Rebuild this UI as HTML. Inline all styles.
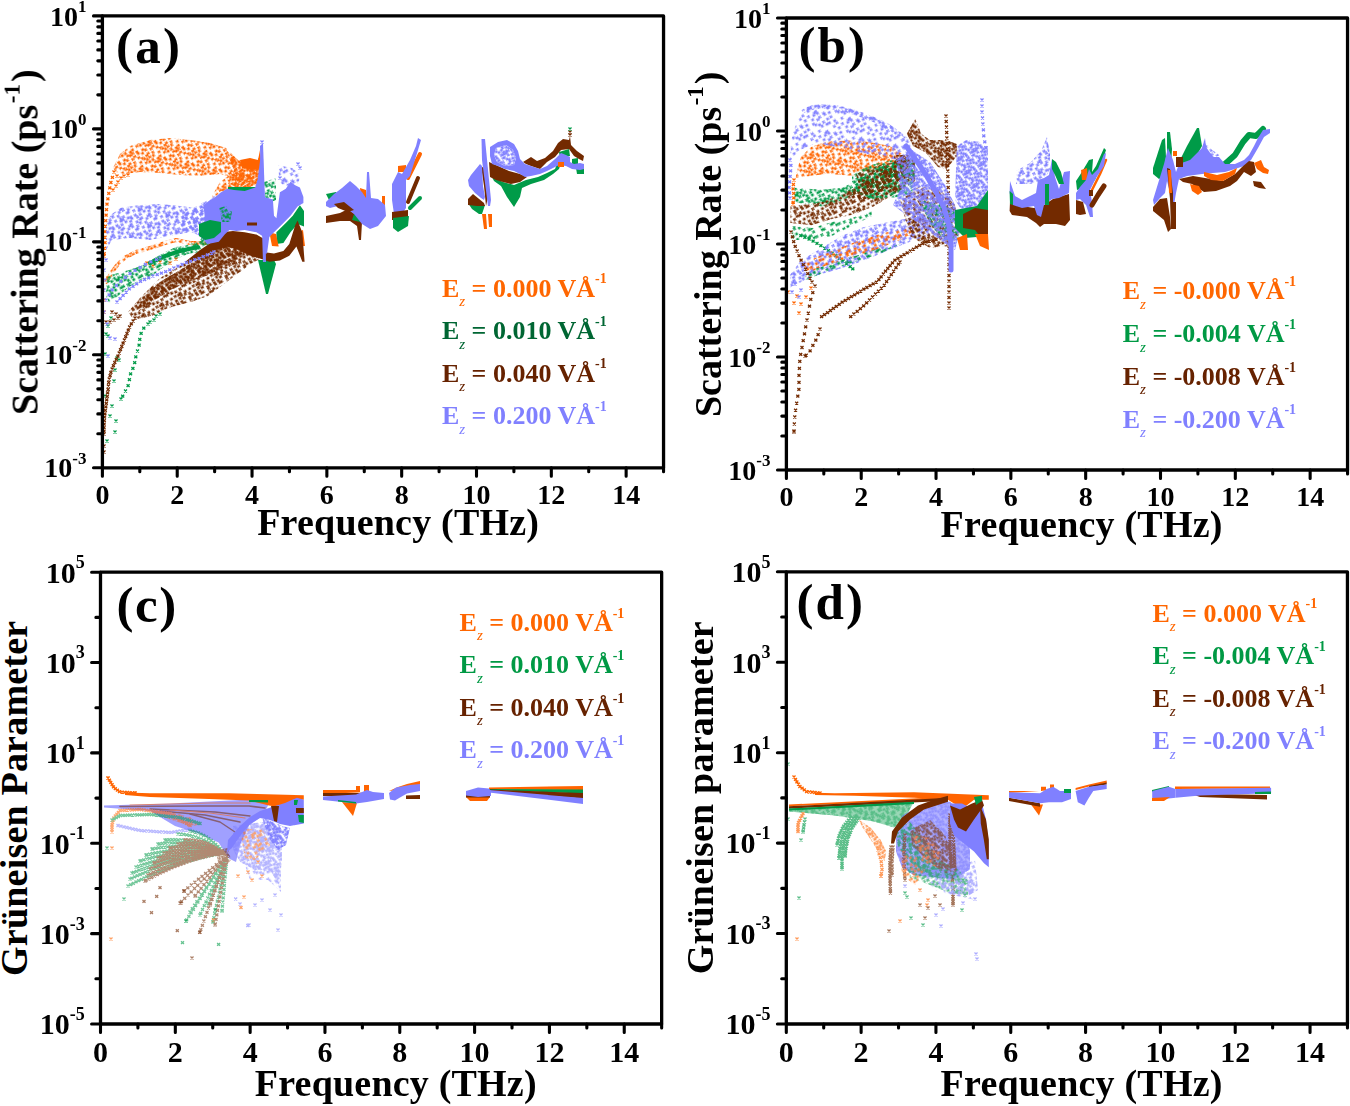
<!DOCTYPE html>
<html><head><meta charset="utf-8"><title>figure</title>
<style>html,body{margin:0;padding:0;background:#fff;overflow:hidden}svg{display:block;filter:blur(0.45px)}</style>
</head><body>
<svg width="1350" height="1106" viewBox="0 0 1350 1106" font-family="'Liberation Serif', serif" font-weight="bold">
<rect width="100%" height="100%" fill="#fff"/>
<defs>
<pattern id="pOs" width="26.00" height="23.00" patternUnits="userSpaceOnUse" patternTransform="rotate(-30)"><path d="M0.57 -0.18l2.6 2.4m0 -2.4l-2.6 2.4M0.57 22.82l2.6 2.4m0 -2.4l-2.6 2.4M26.57 -0.18l2.6 2.4m0 -2.4l-2.6 2.4M26.57 22.82l2.6 2.4m0 -2.4l-2.6 2.4M7.13 -0.47l2.6 2.4m0 -2.4l-2.6 2.4M7.13 22.53l2.6 2.4m0 -2.4l-2.6 2.4M11.85 0.61l2.6 2.4m0 -2.4l-2.6 2.4M11.85 23.61l2.6 2.4m0 -2.4l-2.6 2.4M15.06 1.13l2.6 2.4m0 -2.4l-2.6 2.4M20.18 0.86l2.6 2.4m0 -2.4l-2.6 2.4M-0.49 4.19l2.6 2.4m0 -2.4l-2.6 2.4M25.51 4.19l2.6 2.4m0 -2.4l-2.6 2.4M6.19 6.90l2.6 2.4m0 -2.4l-2.6 2.4M10.14 4.68l2.6 2.4m0 -2.4l-2.6 2.4M17.43 7.35l2.6 2.4m0 -2.4l-2.6 2.4M22.42 5.32l2.6 2.4m0 -2.4l-2.6 2.4M3.28 8.63l2.6 2.4m0 -2.4l-2.6 2.4M7.99 9.53l2.6 2.4m0 -2.4l-2.6 2.4M10.22 8.89l2.6 2.4m0 -2.4l-2.6 2.4M16.10 11.46l2.6 2.4m0 -2.4l-2.6 2.4M20.77 10.60l2.6 2.4m0 -2.4l-2.6 2.4M1.88 14.43l2.6 2.4m0 -2.4l-2.6 2.4M6.70 13.29l2.6 2.4m0 -2.4l-2.6 2.4M9.87 13.82l2.6 2.4m0 -2.4l-2.6 2.4M17.65 14.63l2.6 2.4m0 -2.4l-2.6 2.4M21.33 15.21l2.6 2.4m0 -2.4l-2.6 2.4M1.11 18.76l2.6 2.4m0 -2.4l-2.6 2.4M7.72 -2.77l2.6 2.4m0 -2.4l-2.6 2.4M7.72 20.23l2.6 2.4m0 -2.4l-2.6 2.4M10.64 19.77l2.6 2.4m0 -2.4l-2.6 2.4M17.00 -2.12l2.6 2.4m0 -2.4l-2.6 2.4M17.00 20.88l2.6 2.4m0 -2.4l-2.6 2.4M-2.95 18.72l2.6 2.4m0 -2.4l-2.6 2.4M23.05 18.72l2.6 2.4m0 -2.4l-2.6 2.4" stroke="#ff6400" stroke-width="1.15" fill="none"/></pattern>
<pattern id="pOm" width="21.00" height="19.00" patternUnits="userSpaceOnUse" patternTransform="rotate(-30)"><path d="M2.41 -0.46l2.6 2.4m0 -2.4l-2.6 2.4M2.41 18.54l2.6 2.4m0 -2.4l-2.6 2.4M4.72 1.48l2.6 2.4m0 -2.4l-2.6 2.4M8.03 0.67l2.6 2.4m0 -2.4l-2.6 2.4M8.03 19.67l2.6 2.4m0 -2.4l-2.6 2.4M11.85 1.21l2.6 2.4m0 -2.4l-2.6 2.4M-2.51 0.92l2.6 2.4m0 -2.4l-2.6 2.4M18.49 0.92l2.6 2.4m0 -2.4l-2.6 2.4M2.06 3.93l2.6 2.4m0 -2.4l-2.6 2.4M5.66 4.79l2.6 2.4m0 -2.4l-2.6 2.4M9.47 4.37l2.6 2.4m0 -2.4l-2.6 2.4M14.54 5.85l2.6 2.4m0 -2.4l-2.6 2.4M17.51 5.00l2.6 2.4m0 -2.4l-2.6 2.4M-0.68 8.91l2.6 2.4m0 -2.4l-2.6 2.4M20.32 8.91l2.6 2.4m0 -2.4l-2.6 2.4M5.49 9.80l2.6 2.4m0 -2.4l-2.6 2.4M10.28 7.65l2.6 2.4m0 -2.4l-2.6 2.4M13.02 8.81l2.6 2.4m0 -2.4l-2.6 2.4M16.00 8.18l2.6 2.4m0 -2.4l-2.6 2.4M-0.32 10.94l2.6 2.4m0 -2.4l-2.6 2.4M20.68 10.94l2.6 2.4m0 -2.4l-2.6 2.4M3.52 12.92l2.6 2.4m0 -2.4l-2.6 2.4M7.95 11.33l2.6 2.4m0 -2.4l-2.6 2.4M13.03 13.23l2.6 2.4m0 -2.4l-2.6 2.4M16.19 11.95l2.6 2.4m0 -2.4l-2.6 2.4M0.97 -1.93l2.6 2.4m0 -2.4l-2.6 2.4M0.97 17.07l2.6 2.4m0 -2.4l-2.6 2.4M6.07 -1.99l2.6 2.4m0 -2.4l-2.6 2.4M6.07 17.01l2.6 2.4m0 -2.4l-2.6 2.4M8.46 15.64l2.6 2.4m0 -2.4l-2.6 2.4M12.93 -1.93l2.6 2.4m0 -2.4l-2.6 2.4M12.93 17.07l2.6 2.4m0 -2.4l-2.6 2.4M-1.86 14.84l2.6 2.4m0 -2.4l-2.6 2.4M19.14 14.84l2.6 2.4m0 -2.4l-2.6 2.4" stroke="#ff6400" stroke-width="1.2" fill="none"/></pattern>
<pattern id="pOd" width="17.00" height="15.50" patternUnits="userSpaceOnUse" patternTransform="rotate(-30)"><path d="M-0.48 -0.31l2.6 2.4m0 -2.4l-2.6 2.4M-0.48 15.19l2.6 2.4m0 -2.4l-2.6 2.4M16.52 -0.31l2.6 2.4m0 -2.4l-2.6 2.4M16.52 15.19l2.6 2.4m0 -2.4l-2.6 2.4M3.07 0.31l2.6 2.4m0 -2.4l-2.6 2.4M3.07 15.81l2.6 2.4m0 -2.4l-2.6 2.4M7.44 -0.24l2.6 2.4m0 -2.4l-2.6 2.4M7.44 15.26l2.6 2.4m0 -2.4l-2.6 2.4M9.25 0.15l2.6 2.4m0 -2.4l-2.6 2.4M9.25 15.65l2.6 2.4m0 -2.4l-2.6 2.4M13.64 0.51l2.6 2.4m0 -2.4l-2.6 2.4M13.64 16.01l2.6 2.4m0 -2.4l-2.6 2.4M1.63 3.92l2.6 2.4m0 -2.4l-2.6 2.4M3.84 3.74l2.6 2.4m0 -2.4l-2.6 2.4M7.68 2.34l2.6 2.4m0 -2.4l-2.6 2.4M11.69 4.14l2.6 2.4m0 -2.4l-2.6 2.4M-1.98 4.19l2.6 2.4m0 -2.4l-2.6 2.4M15.02 4.19l2.6 2.4m0 -2.4l-2.6 2.4M0.11 6.30l2.6 2.4m0 -2.4l-2.6 2.4M17.11 6.30l2.6 2.4m0 -2.4l-2.6 2.4M2.72 6.88l2.6 2.4m0 -2.4l-2.6 2.4M6.01 5.48l2.6 2.4m0 -2.4l-2.6 2.4M9.81 5.71l2.6 2.4m0 -2.4l-2.6 2.4M13.56 5.44l2.6 2.4m0 -2.4l-2.6 2.4M-0.96 8.79l2.6 2.4m0 -2.4l-2.6 2.4M16.04 8.79l2.6 2.4m0 -2.4l-2.6 2.4M2.72 9.31l2.6 2.4m0 -2.4l-2.6 2.4M5.91 10.58l2.6 2.4m0 -2.4l-2.6 2.4M10.91 8.78l2.6 2.4m0 -2.4l-2.6 2.4M13.33 9.27l2.6 2.4m0 -2.4l-2.6 2.4M0.03 11.81l2.6 2.4m0 -2.4l-2.6 2.4M17.03 11.81l2.6 2.4m0 -2.4l-2.6 2.4M4.75 -1.53l2.6 2.4m0 -2.4l-2.6 2.4M4.75 13.97l2.6 2.4m0 -2.4l-2.6 2.4M7.11 -2.79l2.6 2.4m0 -2.4l-2.6 2.4M7.11 12.71l2.6 2.4m0 -2.4l-2.6 2.4M9.47 11.76l2.6 2.4m0 -2.4l-2.6 2.4M13.57 12.17l2.6 2.4m0 -2.4l-2.6 2.4" stroke="#ff6400" stroke-width="1.2" fill="none"/></pattern>
<pattern id="pOv" width="32.50" height="30.00" patternUnits="userSpaceOnUse" patternTransform="rotate(-30)"><path d="M3.66 0.17l2.6 2.4m0 -2.4l-2.6 2.4M3.66 30.17l2.6 2.4m0 -2.4l-2.6 2.4M5.97 3.96l2.6 2.4m0 -2.4l-2.6 2.4M15.10 0.10l2.6 2.4m0 -2.4l-2.6 2.4M15.10 30.10l2.6 2.4m0 -2.4l-2.6 2.4M21.67 -0.47l2.6 2.4m0 -2.4l-2.6 2.4M21.67 29.53l2.6 2.4m0 -2.4l-2.6 2.4M28.10 4.10l2.6 2.4m0 -2.4l-2.6 2.4M3.84 8.74l2.6 2.4m0 -2.4l-2.6 2.4M7.21 7.16l2.6 2.4m0 -2.4l-2.6 2.4M13.22 9.11l2.6 2.4m0 -2.4l-2.6 2.4M21.62 9.14l2.6 2.4m0 -2.4l-2.6 2.4M27.06 6.47l2.6 2.4m0 -2.4l-2.6 2.4M3.57 16.13l2.6 2.4m0 -2.4l-2.6 2.4M10.28 15.27l2.6 2.4m0 -2.4l-2.6 2.4M16.61 14.95l2.6 2.4m0 -2.4l-2.6 2.4M20.03 13.88l2.6 2.4m0 -2.4l-2.6 2.4M27.20 11.54l2.6 2.4m0 -2.4l-2.6 2.4M-0.50 18.74l2.6 2.4m0 -2.4l-2.6 2.4M32.00 18.74l2.6 2.4m0 -2.4l-2.6 2.4M7.20 20.72l2.6 2.4m0 -2.4l-2.6 2.4M17.32 19.55l2.6 2.4m0 -2.4l-2.6 2.4M23.72 22.14l2.6 2.4m0 -2.4l-2.6 2.4M-2.18 19.15l2.6 2.4m0 -2.4l-2.6 2.4M30.32 19.15l2.6 2.4m0 -2.4l-2.6 2.4M0.50 24.49l2.6 2.4m0 -2.4l-2.6 2.4M33.00 24.49l2.6 2.4m0 -2.4l-2.6 2.4M6.87 24.38l2.6 2.4m0 -2.4l-2.6 2.4M15.60 -2.28l2.6 2.4m0 -2.4l-2.6 2.4M15.60 27.72l2.6 2.4m0 -2.4l-2.6 2.4M23.22 25.70l2.6 2.4m0 -2.4l-2.6 2.4M28.75 -2.76l2.6 2.4m0 -2.4l-2.6 2.4M28.75 27.24l2.6 2.4m0 -2.4l-2.6 2.4" stroke="#ff6400" stroke-width="1.15" fill="none"/></pattern>
<path id="xO" d="M-1.5 -1.4L1.5 1.4M1.5 -1.4L-1.5 1.4" stroke="#ff6400" stroke-width="1.3" fill="none"/>
<pattern id="pGs" width="26.00" height="23.00" patternUnits="userSpaceOnUse" patternTransform="rotate(-30)"><path d="M-0.43 1.69l2.6 2.4m0 -2.4l-2.6 2.4M25.57 1.69l2.6 2.4m0 -2.4l-2.6 2.4M8.20 2.14l2.6 2.4m0 -2.4l-2.6 2.4M12.74 1.02l2.6 2.4m0 -2.4l-2.6 2.4M15.56 2.16l2.6 2.4m0 -2.4l-2.6 2.4M21.40 2.21l2.6 2.4m0 -2.4l-2.6 2.4M3.26 5.32l2.6 2.4m0 -2.4l-2.6 2.4M6.09 7.34l2.6 2.4m0 -2.4l-2.6 2.4M12.64 4.49l2.6 2.4m0 -2.4l-2.6 2.4M15.35 4.42l2.6 2.4m0 -2.4l-2.6 2.4M-2.22 6.83l2.6 2.4m0 -2.4l-2.6 2.4M23.78 6.83l2.6 2.4m0 -2.4l-2.6 2.4M-0.17 11.50l2.6 2.4m0 -2.4l-2.6 2.4M25.83 11.50l2.6 2.4m0 -2.4l-2.6 2.4M8.50 10.88l2.6 2.4m0 -2.4l-2.6 2.4M11.08 10.48l2.6 2.4m0 -2.4l-2.6 2.4M15.36 8.51l2.6 2.4m0 -2.4l-2.6 2.4M-1.94 10.85l2.6 2.4m0 -2.4l-2.6 2.4M24.06 10.85l2.6 2.4m0 -2.4l-2.6 2.4M1.41 16.50l2.6 2.4m0 -2.4l-2.6 2.4M6.22 16.27l2.6 2.4m0 -2.4l-2.6 2.4M13.06 13.84l2.6 2.4m0 -2.4l-2.6 2.4M15.87 14.14l2.6 2.4m0 -2.4l-2.6 2.4M21.02 15.22l2.6 2.4m0 -2.4l-2.6 2.4M0.30 19.20l2.6 2.4m0 -2.4l-2.6 2.4M26.30 19.20l2.6 2.4m0 -2.4l-2.6 2.4M4.97 -1.99l2.6 2.4m0 -2.4l-2.6 2.4M4.97 21.01l2.6 2.4m0 -2.4l-2.6 2.4M11.09 19.35l2.6 2.4m0 -2.4l-2.6 2.4M17.25 -2.01l2.6 2.4m0 -2.4l-2.6 2.4M17.25 20.99l2.6 2.4m0 -2.4l-2.6 2.4M21.77 -1.96l2.6 2.4m0 -2.4l-2.6 2.4M21.77 21.04l2.6 2.4m0 -2.4l-2.6 2.4" stroke="#009b48" stroke-width="1.15" fill="none"/></pattern>
<pattern id="pGm" width="21.00" height="19.00" patternUnits="userSpaceOnUse" patternTransform="rotate(-30)"><path d="M0.81 0.80l2.6 2.4m0 -2.4l-2.6 2.4M0.81 19.80l2.6 2.4m0 -2.4l-2.6 2.4M5.08 -0.76l2.6 2.4m0 -2.4l-2.6 2.4M5.08 18.24l2.6 2.4m0 -2.4l-2.6 2.4M9.00 -0.26l2.6 2.4m0 -2.4l-2.6 2.4M9.00 18.74l2.6 2.4m0 -2.4l-2.6 2.4M11.73 1.61l2.6 2.4m0 -2.4l-2.6 2.4M16.50 0.62l2.6 2.4m0 -2.4l-2.6 2.4M16.50 19.62l2.6 2.4m0 -2.4l-2.6 2.4M1.56 4.67l2.6 2.4m0 -2.4l-2.6 2.4M4.42 4.56l2.6 2.4m0 -2.4l-2.6 2.4M9.39 5.36l2.6 2.4m0 -2.4l-2.6 2.4M12.08 4.68l2.6 2.4m0 -2.4l-2.6 2.4M16.75 3.82l2.6 2.4m0 -2.4l-2.6 2.4M1.71 8.32l2.6 2.4m0 -2.4l-2.6 2.4M5.21 9.09l2.6 2.4m0 -2.4l-2.6 2.4M10.59 8.13l2.6 2.4m0 -2.4l-2.6 2.4M13.78 8.32l2.6 2.4m0 -2.4l-2.6 2.4M17.64 8.89l2.6 2.4m0 -2.4l-2.6 2.4M0.64 12.20l2.6 2.4m0 -2.4l-2.6 2.4M21.64 12.20l2.6 2.4m0 -2.4l-2.6 2.4M4.93 13.44l2.6 2.4m0 -2.4l-2.6 2.4M9.87 13.24l2.6 2.4m0 -2.4l-2.6 2.4M14.89 11.37l2.6 2.4m0 -2.4l-2.6 2.4M-3.20 13.45l2.6 2.4m0 -2.4l-2.6 2.4M17.80 13.45l2.6 2.4m0 -2.4l-2.6 2.4M1.94 14.80l2.6 2.4m0 -2.4l-2.6 2.4M3.73 15.72l2.6 2.4m0 -2.4l-2.6 2.4M7.76 15.11l2.6 2.4m0 -2.4l-2.6 2.4M11.97 -2.58l2.6 2.4m0 -2.4l-2.6 2.4M11.97 16.42l2.6 2.4m0 -2.4l-2.6 2.4M-2.45 -1.89l2.6 2.4m0 -2.4l-2.6 2.4M-2.45 17.11l2.6 2.4m0 -2.4l-2.6 2.4M18.55 -1.89l2.6 2.4m0 -2.4l-2.6 2.4M18.55 17.11l2.6 2.4m0 -2.4l-2.6 2.4" stroke="#009b48" stroke-width="1.2" fill="none"/></pattern>
<pattern id="pGd" width="17.00" height="15.50" patternUnits="userSpaceOnUse" patternTransform="rotate(-30)"><path d="M-0.54 0.89l2.6 2.4m0 -2.4l-2.6 2.4M16.46 0.89l2.6 2.4m0 -2.4l-2.6 2.4M4.24 -0.54l2.6 2.4m0 -2.4l-2.6 2.4M4.24 14.96l2.6 2.4m0 -2.4l-2.6 2.4M8.24 1.51l2.6 2.4m0 -2.4l-2.6 2.4M9.84 1.47l2.6 2.4m0 -2.4l-2.6 2.4M-3.28 0.32l2.6 2.4m0 -2.4l-2.6 2.4M-3.28 15.82l2.6 2.4m0 -2.4l-2.6 2.4M13.72 0.32l2.6 2.4m0 -2.4l-2.6 2.4M13.72 15.82l2.6 2.4m0 -2.4l-2.6 2.4M1.73 4.27l2.6 2.4m0 -2.4l-2.6 2.4M2.88 3.28l2.6 2.4m0 -2.4l-2.6 2.4M7.24 3.05l2.6 2.4m0 -2.4l-2.6 2.4M9.77 3.00l2.6 2.4m0 -2.4l-2.6 2.4M-2.40 2.26l2.6 2.4m0 -2.4l-2.6 2.4M14.60 2.26l2.6 2.4m0 -2.4l-2.6 2.4M0.55 6.40l2.6 2.4m0 -2.4l-2.6 2.4M17.55 6.40l2.6 2.4m0 -2.4l-2.6 2.4M2.49 6.13l2.6 2.4m0 -2.4l-2.6 2.4M7.54 6.58l2.6 2.4m0 -2.4l-2.6 2.4M9.41 7.75l2.6 2.4m0 -2.4l-2.6 2.4M-2.22 7.72l2.6 2.4m0 -2.4l-2.6 2.4M14.78 7.72l2.6 2.4m0 -2.4l-2.6 2.4M-0.67 9.07l2.6 2.4m0 -2.4l-2.6 2.4M16.33 9.07l2.6 2.4m0 -2.4l-2.6 2.4M2.55 10.34l2.6 2.4m0 -2.4l-2.6 2.4M6.58 8.73l2.6 2.4m0 -2.4l-2.6 2.4M10.39 10.67l2.6 2.4m0 -2.4l-2.6 2.4M-2.13 9.05l2.6 2.4m0 -2.4l-2.6 2.4M14.87 9.05l2.6 2.4m0 -2.4l-2.6 2.4M-0.55 -1.71l2.6 2.4m0 -2.4l-2.6 2.4M-0.55 13.79l2.6 2.4m0 -2.4l-2.6 2.4M16.45 -1.71l2.6 2.4m0 -2.4l-2.6 2.4M16.45 13.79l2.6 2.4m0 -2.4l-2.6 2.4M3.99 -2.25l2.6 2.4m0 -2.4l-2.6 2.4M3.99 13.25l2.6 2.4m0 -2.4l-2.6 2.4M6.08 11.65l2.6 2.4m0 -2.4l-2.6 2.4M11.11 -2.94l2.6 2.4m0 -2.4l-2.6 2.4M11.11 12.56l2.6 2.4m0 -2.4l-2.6 2.4M12.84 -1.66l2.6 2.4m0 -2.4l-2.6 2.4M12.84 13.84l2.6 2.4m0 -2.4l-2.6 2.4" stroke="#009b48" stroke-width="1.2" fill="none"/></pattern>
<pattern id="pGv" width="32.50" height="30.00" patternUnits="userSpaceOnUse" patternTransform="rotate(-30)"><path d="M2.65 3.25l2.6 2.4m0 -2.4l-2.6 2.4M6.29 3.51l2.6 2.4m0 -2.4l-2.6 2.4M12.70 3.54l2.6 2.4m0 -2.4l-2.6 2.4M21.21 1.03l2.6 2.4m0 -2.4l-2.6 2.4M28.23 3.85l2.6 2.4m0 -2.4l-2.6 2.4M0.74 6.02l2.6 2.4m0 -2.4l-2.6 2.4M8.59 6.54l2.6 2.4m0 -2.4l-2.6 2.4M12.92 6.17l2.6 2.4m0 -2.4l-2.6 2.4M19.11 6.37l2.6 2.4m0 -2.4l-2.6 2.4M26.97 6.86l2.6 2.4m0 -2.4l-2.6 2.4M3.30 12.79l2.6 2.4m0 -2.4l-2.6 2.4M8.45 12.25l2.6 2.4m0 -2.4l-2.6 2.4M14.15 11.49l2.6 2.4m0 -2.4l-2.6 2.4M20.15 11.47l2.6 2.4m0 -2.4l-2.6 2.4M29.16 14.05l2.6 2.4m0 -2.4l-2.6 2.4M0.34 19.68l2.6 2.4m0 -2.4l-2.6 2.4M32.84 19.68l2.6 2.4m0 -2.4l-2.6 2.4M10.71 17.91l2.6 2.4m0 -2.4l-2.6 2.4M16.61 19.47l2.6 2.4m0 -2.4l-2.6 2.4M21.42 21.41l2.6 2.4m0 -2.4l-2.6 2.4M27.39 19.83l2.6 2.4m0 -2.4l-2.6 2.4M2.93 -1.88l2.6 2.4m0 -2.4l-2.6 2.4M2.93 28.12l2.6 2.4m0 -2.4l-2.6 2.4M7.63 -2.61l2.6 2.4m0 -2.4l-2.6 2.4M7.63 27.39l2.6 2.4m0 -2.4l-2.6 2.4M16.02 26.45l2.6 2.4m0 -2.4l-2.6 2.4M20.95 25.07l2.6 2.4m0 -2.4l-2.6 2.4M25.63 24.02l2.6 2.4m0 -2.4l-2.6 2.4" stroke="#009b48" stroke-width="1.15" fill="none"/></pattern>
<path id="xG" d="M-1.5 -1.4L1.5 1.4M1.5 -1.4L-1.5 1.4" stroke="#009b48" stroke-width="1.3" fill="none"/>
<pattern id="pBs" width="26.00" height="23.00" patternUnits="userSpaceOnUse" patternTransform="rotate(-30)"><path d="M-0.49 1.99l2.6 2.4m0 -2.4l-2.6 2.4M25.51 1.99l2.6 2.4m0 -2.4l-2.6 2.4M5.48 -0.14l2.6 2.4m0 -2.4l-2.6 2.4M5.48 22.86l2.6 2.4m0 -2.4l-2.6 2.4M9.97 2.36l2.6 2.4m0 -2.4l-2.6 2.4M18.44 1.73l2.6 2.4m0 -2.4l-2.6 2.4M21.19 0.15l2.6 2.4m0 -2.4l-2.6 2.4M21.19 23.15l2.6 2.4m0 -2.4l-2.6 2.4M0.44 5.55l2.6 2.4m0 -2.4l-2.6 2.4M26.44 5.55l2.6 2.4m0 -2.4l-2.6 2.4M5.08 5.50l2.6 2.4m0 -2.4l-2.6 2.4M10.72 7.40l2.6 2.4m0 -2.4l-2.6 2.4M18.87 5.87l2.6 2.4m0 -2.4l-2.6 2.4M21.04 7.41l2.6 2.4m0 -2.4l-2.6 2.4M0.51 9.77l2.6 2.4m0 -2.4l-2.6 2.4M26.51 9.77l2.6 2.4m0 -2.4l-2.6 2.4M4.42 9.86l2.6 2.4m0 -2.4l-2.6 2.4M11.59 10.31l2.6 2.4m0 -2.4l-2.6 2.4M15.66 10.32l2.6 2.4m0 -2.4l-2.6 2.4M20.04 9.43l2.6 2.4m0 -2.4l-2.6 2.4M-0.41 14.53l2.6 2.4m0 -2.4l-2.6 2.4M25.59 14.53l2.6 2.4m0 -2.4l-2.6 2.4M4.59 13.14l2.6 2.4m0 -2.4l-2.6 2.4M10.89 13.92l2.6 2.4m0 -2.4l-2.6 2.4M17.26 15.01l2.6 2.4m0 -2.4l-2.6 2.4M-2.86 15.48l2.6 2.4m0 -2.4l-2.6 2.4M23.14 15.48l2.6 2.4m0 -2.4l-2.6 2.4M2.20 -2.10l2.6 2.4m0 -2.4l-2.6 2.4M2.20 20.90l2.6 2.4m0 -2.4l-2.6 2.4M6.04 18.86l2.6 2.4m0 -2.4l-2.6 2.4M13.72 18.21l2.6 2.4m0 -2.4l-2.6 2.4M17.83 -2.97l2.6 2.4m0 -2.4l-2.6 2.4M17.83 20.03l2.6 2.4m0 -2.4l-2.6 2.4M20.20 -2.27l2.6 2.4m0 -2.4l-2.6 2.4M20.20 20.73l2.6 2.4m0 -2.4l-2.6 2.4" stroke="#732a00" stroke-width="1.15" fill="none"/></pattern>
<pattern id="pBm" width="21.00" height="19.00" patternUnits="userSpaceOnUse" patternTransform="rotate(-30)"><path d="M2.12 1.09l2.6 2.4m0 -2.4l-2.6 2.4M5.79 1.65l2.6 2.4m0 -2.4l-2.6 2.4M7.99 0.77l2.6 2.4m0 -2.4l-2.6 2.4M7.99 19.77l2.6 2.4m0 -2.4l-2.6 2.4M13.41 1.72l2.6 2.4m0 -2.4l-2.6 2.4M-2.38 1.69l2.6 2.4m0 -2.4l-2.6 2.4M18.62 1.69l2.6 2.4m0 -2.4l-2.6 2.4M1.08 5.69l2.6 2.4m0 -2.4l-2.6 2.4M5.61 5.09l2.6 2.4m0 -2.4l-2.6 2.4M8.29 3.07l2.6 2.4m0 -2.4l-2.6 2.4M12.17 4.08l2.6 2.4m0 -2.4l-2.6 2.4M16.27 5.52l2.6 2.4m0 -2.4l-2.6 2.4M1.00 8.69l2.6 2.4m0 -2.4l-2.6 2.4M5.42 8.85l2.6 2.4m0 -2.4l-2.6 2.4M9.16 6.79l2.6 2.4m0 -2.4l-2.6 2.4M14.40 9.05l2.6 2.4m0 -2.4l-2.6 2.4M17.61 8.41l2.6 2.4m0 -2.4l-2.6 2.4M1.34 10.78l2.6 2.4m0 -2.4l-2.6 2.4M5.80 11.35l2.6 2.4m0 -2.4l-2.6 2.4M7.77 11.39l2.6 2.4m0 -2.4l-2.6 2.4M14.17 11.20l2.6 2.4m0 -2.4l-2.6 2.4M-2.59 13.55l2.6 2.4m0 -2.4l-2.6 2.4M18.41 13.55l2.6 2.4m0 -2.4l-2.6 2.4M0.78 15.54l2.6 2.4m0 -2.4l-2.6 2.4M4.93 -2.54l2.6 2.4m0 -2.4l-2.6 2.4M4.93 16.46l2.6 2.4m0 -2.4l-2.6 2.4M10.10 -2.74l2.6 2.4m0 -2.4l-2.6 2.4M10.10 16.26l2.6 2.4m0 -2.4l-2.6 2.4M13.88 14.62l2.6 2.4m0 -2.4l-2.6 2.4M16.42 15.15l2.6 2.4m0 -2.4l-2.6 2.4" stroke="#732a00" stroke-width="1.2" fill="none"/></pattern>
<pattern id="pBd" width="17.00" height="15.50" patternUnits="userSpaceOnUse" patternTransform="rotate(-30)"><path d="M1.06 -0.14l2.6 2.4m0 -2.4l-2.6 2.4M1.06 15.36l2.6 2.4m0 -2.4l-2.6 2.4M3.98 -0.86l2.6 2.4m0 -2.4l-2.6 2.4M3.98 14.64l2.6 2.4m0 -2.4l-2.6 2.4M6.00 -0.22l2.6 2.4m0 -2.4l-2.6 2.4M6.00 15.28l2.6 2.4m0 -2.4l-2.6 2.4M11.07 0.83l2.6 2.4m0 -2.4l-2.6 2.4M-2.52 -0.17l2.6 2.4m0 -2.4l-2.6 2.4M-2.52 15.33l2.6 2.4m0 -2.4l-2.6 2.4M14.48 -0.17l2.6 2.4m0 -2.4l-2.6 2.4M14.48 15.33l2.6 2.4m0 -2.4l-2.6 2.4M0.44 3.36l2.6 2.4m0 -2.4l-2.6 2.4M17.44 3.36l2.6 2.4m0 -2.4l-2.6 2.4M3.71 2.50l2.6 2.4m0 -2.4l-2.6 2.4M8.27 2.70l2.6 2.4m0 -2.4l-2.6 2.4M11.90 4.53l2.6 2.4m0 -2.4l-2.6 2.4M12.69 3.35l2.6 2.4m0 -2.4l-2.6 2.4M1.27 7.71l2.6 2.4m0 -2.4l-2.6 2.4M3.66 5.98l2.6 2.4m0 -2.4l-2.6 2.4M6.41 7.66l2.6 2.4m0 -2.4l-2.6 2.4M9.81 6.75l2.6 2.4m0 -2.4l-2.6 2.4M13.03 6.61l2.6 2.4m0 -2.4l-2.6 2.4M1.63 8.74l2.6 2.4m0 -2.4l-2.6 2.4M4.67 9.67l2.6 2.4m0 -2.4l-2.6 2.4M8.25 10.15l2.6 2.4m0 -2.4l-2.6 2.4M9.87 10.64l2.6 2.4m0 -2.4l-2.6 2.4M-3.04 8.47l2.6 2.4m0 -2.4l-2.6 2.4M13.96 8.47l2.6 2.4m0 -2.4l-2.6 2.4M-0.95 -2.77l2.6 2.4m0 -2.4l-2.6 2.4M-0.95 12.73l2.6 2.4m0 -2.4l-2.6 2.4M16.05 -2.77l2.6 2.4m0 -2.4l-2.6 2.4M16.05 12.73l2.6 2.4m0 -2.4l-2.6 2.4M3.67 12.26l2.6 2.4m0 -2.4l-2.6 2.4M6.22 -3.14l2.6 2.4m0 -2.4l-2.6 2.4M6.22 12.36l2.6 2.4m0 -2.4l-2.6 2.4M10.10 -1.91l2.6 2.4m0 -2.4l-2.6 2.4M10.10 13.59l2.6 2.4m0 -2.4l-2.6 2.4M12.64 -2.13l2.6 2.4m0 -2.4l-2.6 2.4M12.64 13.37l2.6 2.4m0 -2.4l-2.6 2.4" stroke="#732a00" stroke-width="1.2" fill="none"/></pattern>
<pattern id="pBv" width="32.50" height="30.00" patternUnits="userSpaceOnUse" patternTransform="rotate(-30)"><path d="M3.71 -0.02l2.6 2.4m0 -2.4l-2.6 2.4M3.71 29.98l2.6 2.4m0 -2.4l-2.6 2.4M10.67 2.82l2.6 2.4m0 -2.4l-2.6 2.4M17.04 0.79l2.6 2.4m0 -2.4l-2.6 2.4M17.04 30.79l2.6 2.4m0 -2.4l-2.6 2.4M20.79 1.29l2.6 2.4m0 -2.4l-2.6 2.4M-1.96 2.23l2.6 2.4m0 -2.4l-2.6 2.4M30.54 2.23l2.6 2.4m0 -2.4l-2.6 2.4M1.23 7.45l2.6 2.4m0 -2.4l-2.6 2.4M7.28 5.63l2.6 2.4m0 -2.4l-2.6 2.4M12.88 9.41l2.6 2.4m0 -2.4l-2.6 2.4M20.34 9.89l2.6 2.4m0 -2.4l-2.6 2.4M26.65 6.68l2.6 2.4m0 -2.4l-2.6 2.4M2.01 12.31l2.6 2.4m0 -2.4l-2.6 2.4M7.79 15.99l2.6 2.4m0 -2.4l-2.6 2.4M16.95 15.30l2.6 2.4m0 -2.4l-2.6 2.4M22.13 15.78l2.6 2.4m0 -2.4l-2.6 2.4M-2.26 14.04l2.6 2.4m0 -2.4l-2.6 2.4M30.24 14.04l2.6 2.4m0 -2.4l-2.6 2.4M3.09 17.64l2.6 2.4m0 -2.4l-2.6 2.4M9.66 19.56l2.6 2.4m0 -2.4l-2.6 2.4M16.26 20.49l2.6 2.4m0 -2.4l-2.6 2.4M20.34 17.64l2.6 2.4m0 -2.4l-2.6 2.4M-2.33 18.01l2.6 2.4m0 -2.4l-2.6 2.4M30.17 18.01l2.6 2.4m0 -2.4l-2.6 2.4M1.81 25.05l2.6 2.4m0 -2.4l-2.6 2.4M7.40 -3.05l2.6 2.4m0 -2.4l-2.6 2.4M7.40 26.95l2.6 2.4m0 -2.4l-2.6 2.4M17.43 24.65l2.6 2.4m0 -2.4l-2.6 2.4M22.26 24.84l2.6 2.4m0 -2.4l-2.6 2.4M28.25 25.29l2.6 2.4m0 -2.4l-2.6 2.4" stroke="#732a00" stroke-width="1.15" fill="none"/></pattern>
<path id="xB" d="M-1.5 -1.4L1.5 1.4M1.5 -1.4L-1.5 1.4" stroke="#732a00" stroke-width="1.3" fill="none"/>
<pattern id="pLs" width="26.00" height="23.00" patternUnits="userSpaceOnUse" patternTransform="rotate(-30)"><path d="M-0.08 -0.15l2.6 2.4m0 -2.4l-2.6 2.4M-0.08 22.85l2.6 2.4m0 -2.4l-2.6 2.4M25.92 -0.15l2.6 2.4m0 -2.4l-2.6 2.4M25.92 22.85l2.6 2.4m0 -2.4l-2.6 2.4M5.28 2.59l2.6 2.4m0 -2.4l-2.6 2.4M11.69 0.07l2.6 2.4m0 -2.4l-2.6 2.4M11.69 23.07l2.6 2.4m0 -2.4l-2.6 2.4M18.59 2.93l2.6 2.4m0 -2.4l-2.6 2.4M21.89 -0.23l2.6 2.4m0 -2.4l-2.6 2.4M21.89 22.77l2.6 2.4m0 -2.4l-2.6 2.4M0.02 4.19l2.6 2.4m0 -2.4l-2.6 2.4M26.02 4.19l2.6 2.4m0 -2.4l-2.6 2.4M5.84 4.20l2.6 2.4m0 -2.4l-2.6 2.4M10.61 4.81l2.6 2.4m0 -2.4l-2.6 2.4M17.19 7.13l2.6 2.4m0 -2.4l-2.6 2.4M-2.86 5.38l2.6 2.4m0 -2.4l-2.6 2.4M23.14 5.38l2.6 2.4m0 -2.4l-2.6 2.4M0.94 10.39l2.6 2.4m0 -2.4l-2.6 2.4M5.99 9.70l2.6 2.4m0 -2.4l-2.6 2.4M9.88 9.48l2.6 2.4m0 -2.4l-2.6 2.4M18.85 8.92l2.6 2.4m0 -2.4l-2.6 2.4M22.11 10.78l2.6 2.4m0 -2.4l-2.6 2.4M2.81 13.85l2.6 2.4m0 -2.4l-2.6 2.4M5.55 13.97l2.6 2.4m0 -2.4l-2.6 2.4M11.28 14.70l2.6 2.4m0 -2.4l-2.6 2.4M18.79 16.18l2.6 2.4m0 -2.4l-2.6 2.4M-2.35 13.14l2.6 2.4m0 -2.4l-2.6 2.4M23.65 13.14l2.6 2.4m0 -2.4l-2.6 2.4M-0.65 -2.73l2.6 2.4m0 -2.4l-2.6 2.4M-0.65 20.27l2.6 2.4m0 -2.4l-2.6 2.4M25.35 -2.73l2.6 2.4m0 -2.4l-2.6 2.4M25.35 20.27l2.6 2.4m0 -2.4l-2.6 2.4M8.15 19.40l2.6 2.4m0 -2.4l-2.6 2.4M12.06 17.66l2.6 2.4m0 -2.4l-2.6 2.4M16.45 -1.93l2.6 2.4m0 -2.4l-2.6 2.4M16.45 21.07l2.6 2.4m0 -2.4l-2.6 2.4M-2.55 -2.19l2.6 2.4m0 -2.4l-2.6 2.4M-2.55 20.81l2.6 2.4m0 -2.4l-2.6 2.4M23.45 -2.19l2.6 2.4m0 -2.4l-2.6 2.4M23.45 20.81l2.6 2.4m0 -2.4l-2.6 2.4" stroke="#8080ff" stroke-width="1.15" fill="none"/></pattern>
<pattern id="pLm" width="21.00" height="19.00" patternUnits="userSpaceOnUse" patternTransform="rotate(-30)"><path d="M2.39 -0.06l2.6 2.4m0 -2.4l-2.6 2.4M2.39 18.94l2.6 2.4m0 -2.4l-2.6 2.4M3.69 -0.35l2.6 2.4m0 -2.4l-2.6 2.4M3.69 18.65l2.6 2.4m0 -2.4l-2.6 2.4M9.28 1.25l2.6 2.4m0 -2.4l-2.6 2.4M14.88 1.37l2.6 2.4m0 -2.4l-2.6 2.4M-2.90 1.50l2.6 2.4m0 -2.4l-2.6 2.4M18.10 1.50l2.6 2.4m0 -2.4l-2.6 2.4M0.66 4.66l2.6 2.4m0 -2.4l-2.6 2.4M21.66 4.66l2.6 2.4m0 -2.4l-2.6 2.4M3.45 5.36l2.6 2.4m0 -2.4l-2.6 2.4M8.30 5.78l2.6 2.4m0 -2.4l-2.6 2.4M13.89 3.90l2.6 2.4m0 -2.4l-2.6 2.4M16.35 3.75l2.6 2.4m0 -2.4l-2.6 2.4M1.26 8.90l2.6 2.4m0 -2.4l-2.6 2.4M3.70 6.99l2.6 2.4m0 -2.4l-2.6 2.4M9.28 8.55l2.6 2.4m0 -2.4l-2.6 2.4M13.02 7.46l2.6 2.4m0 -2.4l-2.6 2.4M-3.06 6.81l2.6 2.4m0 -2.4l-2.6 2.4M17.94 6.81l2.6 2.4m0 -2.4l-2.6 2.4M0.13 11.98l2.6 2.4m0 -2.4l-2.6 2.4M21.13 11.98l2.6 2.4m0 -2.4l-2.6 2.4M6.54 12.54l2.6 2.4m0 -2.4l-2.6 2.4M10.49 12.02l2.6 2.4m0 -2.4l-2.6 2.4M12.51 11.33l2.6 2.4m0 -2.4l-2.6 2.4M-1.85 12.72l2.6 2.4m0 -2.4l-2.6 2.4M19.15 12.72l2.6 2.4m0 -2.4l-2.6 2.4M0.15 14.45l2.6 2.4m0 -2.4l-2.6 2.4M21.15 14.45l2.6 2.4m0 -2.4l-2.6 2.4M4.99 -2.57l2.6 2.4m0 -2.4l-2.6 2.4M4.99 16.43l2.6 2.4m0 -2.4l-2.6 2.4M8.93 15.16l2.6 2.4m0 -2.4l-2.6 2.4M13.96 -1.81l2.6 2.4m0 -2.4l-2.6 2.4M13.96 17.19l2.6 2.4m0 -2.4l-2.6 2.4M16.68 14.48l2.6 2.4m0 -2.4l-2.6 2.4" stroke="#8080ff" stroke-width="1.2" fill="none"/></pattern>
<pattern id="pLd" width="17.00" height="15.50" patternUnits="userSpaceOnUse" patternTransform="rotate(-30)"><path d="M-0.04 0.15l2.6 2.4m0 -2.4l-2.6 2.4M-0.04 15.65l2.6 2.4m0 -2.4l-2.6 2.4M16.96 0.15l2.6 2.4m0 -2.4l-2.6 2.4M16.96 15.65l2.6 2.4m0 -2.4l-2.6 2.4M4.30 -0.40l2.6 2.4m0 -2.4l-2.6 2.4M4.30 15.10l2.6 2.4m0 -2.4l-2.6 2.4M8.01 0.94l2.6 2.4m0 -2.4l-2.6 2.4M10.61 -0.38l2.6 2.4m0 -2.4l-2.6 2.4M10.61 15.12l2.6 2.4m0 -2.4l-2.6 2.4M-1.72 -0.12l2.6 2.4m0 -2.4l-2.6 2.4M-1.72 15.38l2.6 2.4m0 -2.4l-2.6 2.4M15.28 -0.12l2.6 2.4m0 -2.4l-2.6 2.4M15.28 15.38l2.6 2.4m0 -2.4l-2.6 2.4M1.27 2.78l2.6 2.4m0 -2.4l-2.6 2.4M3.04 4.10l2.6 2.4m0 -2.4l-2.6 2.4M6.64 4.57l2.6 2.4m0 -2.4l-2.6 2.4M10.59 2.67l2.6 2.4m0 -2.4l-2.6 2.4M13.25 3.24l2.6 2.4m0 -2.4l-2.6 2.4M0.85 7.66l2.6 2.4m0 -2.4l-2.6 2.4M2.84 6.29l2.6 2.4m0 -2.4l-2.6 2.4M6.42 7.73l2.6 2.4m0 -2.4l-2.6 2.4M9.63 5.44l2.6 2.4m0 -2.4l-2.6 2.4M12.80 6.29l2.6 2.4m0 -2.4l-2.6 2.4M1.48 10.60l2.6 2.4m0 -2.4l-2.6 2.4M4.43 10.88l2.6 2.4m0 -2.4l-2.6 2.4M8.37 9.23l2.6 2.4m0 -2.4l-2.6 2.4M9.74 10.73l2.6 2.4m0 -2.4l-2.6 2.4M-2.33 8.49l2.6 2.4m0 -2.4l-2.6 2.4M14.67 8.49l2.6 2.4m0 -2.4l-2.6 2.4M0.85 -3.05l2.6 2.4m0 -2.4l-2.6 2.4M0.85 12.45l2.6 2.4m0 -2.4l-2.6 2.4M3.46 -3.17l2.6 2.4m0 -2.4l-2.6 2.4M3.46 12.33l2.6 2.4m0 -2.4l-2.6 2.4M6.30 11.52l2.6 2.4m0 -2.4l-2.6 2.4M10.00 -3.12l2.6 2.4m0 -2.4l-2.6 2.4M10.00 12.38l2.6 2.4m0 -2.4l-2.6 2.4M-1.76 11.82l2.6 2.4m0 -2.4l-2.6 2.4M15.24 11.82l2.6 2.4m0 -2.4l-2.6 2.4" stroke="#8080ff" stroke-width="1.2" fill="none"/></pattern>
<pattern id="pLv" width="32.50" height="30.00" patternUnits="userSpaceOnUse" patternTransform="rotate(-30)"><path d="M4.36 0.40l2.6 2.4m0 -2.4l-2.6 2.4M4.36 30.40l2.6 2.4m0 -2.4l-2.6 2.4M7.70 3.34l2.6 2.4m0 -2.4l-2.6 2.4M16.62 1.48l2.6 2.4m0 -2.4l-2.6 2.4M19.11 1.67l2.6 2.4m0 -2.4l-2.6 2.4M27.29 3.81l2.6 2.4m0 -2.4l-2.6 2.4M0.35 7.15l2.6 2.4m0 -2.4l-2.6 2.4M32.85 7.15l2.6 2.4m0 -2.4l-2.6 2.4M10.51 5.55l2.6 2.4m0 -2.4l-2.6 2.4M14.49 9.30l2.6 2.4m0 -2.4l-2.6 2.4M22.84 5.60l2.6 2.4m0 -2.4l-2.6 2.4M25.53 5.70l2.6 2.4m0 -2.4l-2.6 2.4M4.13 12.63l2.6 2.4m0 -2.4l-2.6 2.4M9.74 15.71l2.6 2.4m0 -2.4l-2.6 2.4M14.11 12.71l2.6 2.4m0 -2.4l-2.6 2.4M23.83 14.36l2.6 2.4m0 -2.4l-2.6 2.4M26.71 14.84l2.6 2.4m0 -2.4l-2.6 2.4M1.00 18.72l2.6 2.4m0 -2.4l-2.6 2.4M5.87 21.03l2.6 2.4m0 -2.4l-2.6 2.4M17.12 20.44l2.6 2.4m0 -2.4l-2.6 2.4M23.75 17.52l2.6 2.4m0 -2.4l-2.6 2.4M26.57 19.68l2.6 2.4m0 -2.4l-2.6 2.4M4.33 -2.02l2.6 2.4m0 -2.4l-2.6 2.4M4.33 27.98l2.6 2.4m0 -2.4l-2.6 2.4M7.86 24.61l2.6 2.4m0 -2.4l-2.6 2.4M14.59 25.77l2.6 2.4m0 -2.4l-2.6 2.4M23.68 24.28l2.6 2.4m0 -2.4l-2.6 2.4M-2.98 -3.06l2.6 2.4m0 -2.4l-2.6 2.4M-2.98 26.94l2.6 2.4m0 -2.4l-2.6 2.4M29.52 -3.06l2.6 2.4m0 -2.4l-2.6 2.4M29.52 26.94l2.6 2.4m0 -2.4l-2.6 2.4" stroke="#8080ff" stroke-width="1.15" fill="none"/></pattern>
<path id="xL" d="M-1.5 -1.4L1.5 1.4M1.5 -1.4L-1.5 1.4" stroke="#8080ff" stroke-width="1.3" fill="none"/>
</defs>
<polygon points="113.0,168.0 120.0,154.0 130.0,146.0 150.0,140.0 170.0,138.0 190.0,140.0 210.0,143.0 226.0,148.0 236.0,158.0 240.0,162.0 248.0,160.0 256.0,162.0 260.0,156.0 262.0,176.0 258.0,186.0 252.0,186.0 240.0,188.0 228.0,190.0 220.0,192.0 214.0,198.0 212.0,196.0 220.0,182.0 228.0,176.0 220.0,174.0 200.0,176.0 180.0,175.0 160.0,173.0 140.0,172.0 124.0,174.0 116.0,172.0" fill="url(#pOm)"/>
<polygon points="226.0,150.0 238.0,160.0 256.0,162.0 260.0,156.0 262.0,176.0 258.0,186.0 240.0,188.0 228.0,184.0 234.0,170.0" fill="url(#pOd)"/>
<polygon points="240.0,160.0 250.0,158.0 258.0,160.0 260.0,150.0 262.0,168.0 252.0,170.0 242.0,168.0" fill="#ff6400"/>
<use href="#xO" x="114.0" y="172.0"/><use href="#xO" x="112.4" y="177.3"/><use href="#xO" x="110.9" y="182.5"/><use href="#xO" x="109.8" y="187.9"/><use href="#xO" x="108.8" y="193.3"/><use href="#xO" x="107.9" y="198.8"/><use href="#xO" x="107.0" y="204.2"/><use href="#xO" x="106.5" y="209.7"/><use href="#xO" x="106.1" y="215.2"/><use href="#xO" x="105.7" y="220.6"/><use href="#xO" x="105.3" y="226.1"/><use href="#xO" x="105.0" y="231.6"/><use href="#xO" x="105.0" y="237.1"/><use href="#xO" x="105.0" y="242.6"/><use href="#xO" x="104.7" y="248.1"/><use href="#xO" x="104.2" y="253.6"/><use href="#xO" x="104.0" y="256.0"/>
<use href="#xO" x="117.0" y="176.0"/><use href="#xO" x="118.0" y="182.0"/><use href="#xO" x="116.0" y="186.0"/><use href="#xO" x="121.0" y="178.0"/><use href="#xO" x="124.0" y="176.0"/><use href="#xO" x="113.0" y="190.0"/><use href="#xO" x="128.0" y="175.0"/>
<path d="M106.0 282.0 L112.0 272.0 L118.0 264.0 L126.0 257.0 L136.0 252.0 L150.0 248.0 L165.0 243.0 L176.0 240.0 L190.0 243.0 L206.0 243.0 L222.0 236.0" fill="none" stroke="url(#pOm)" stroke-width="4" stroke-linejoin="round" stroke-linecap="round"/>
<use href="#xO" x="103.0" y="290.0"/><use href="#xO" x="108.0" y="278.0"/><use href="#xO" x="147.0" y="263.0"/><use href="#xO" x="153.0" y="266.0"/><use href="#xO" x="170.0" y="263.0"/><use href="#xO" x="176.0" y="259.0"/><use href="#xO" x="160.0" y="262.0"/><use href="#xO" x="104.0" y="300.0"/><use href="#xO" x="104.0" y="312.0"/>
<polygon points="298.0,232.0 303.0,230.0 305.0,246.0 300.0,246.0" fill="#ff6400"/>
<polygon points="107.0,276.0 118.0,273.0 129.0,270.0 141.0,266.0 153.0,259.0 165.0,252.0 176.0,247.0 188.0,245.0 200.0,240.0 206.0,233.0 218.0,227.0 223.0,221.0 228.0,224.0 222.0,236.0 218.0,236.0 200.0,252.0 188.0,254.0 176.0,259.0 165.0,266.0 153.0,275.0 141.0,280.0 129.0,287.0 118.0,296.0 109.0,303.0 106.0,296.0" fill="url(#pGm)"/>
<polygon points="203.0,226.0 214.0,222.0 222.0,222.0 224.0,232.0 214.0,238.0 203.0,240.0" fill="#009b48"/>
<path d="M150.0 263.0 L165.0 256.0 L180.0 251.0 L198.0 247.0" fill="none" stroke="#009b48" stroke-width="4" stroke-linejoin="round" stroke-linecap="round"/>
<polygon points="258.0,260.0 274.0,260.0 276.0,264.0 268.0,294.0 266.0,294.0" fill="#009b48"/>
<polygon points="276.4,232.3 285.8,222.9 292.8,215.8 299.9,205.2 304.0,211.1 304.0,226.4 297.5,224.1 290.5,232.3 283.4,242.9 276.4,244.0" fill="#009b48"/>
<polygon points="269.3,232.3 276.0,234.0 278.7,246.4 272.0,246.0" fill="#ff6400"/>
<polygon points="228.0,187.0 256.0,187.0 258.0,193.0 228.0,194.0" fill="#009b48"/>
<polygon points="264.0,182.0 276.0,178.0 276.0,200.0 266.0,204.0" fill="url(#pGm)"/>
<use href="#xG" x="148.0" y="324.0"/><use href="#xG" x="143.8" y="328.2"/><use href="#xG" x="141.1" y="333.4"/><use href="#xG" x="139.8" y="339.3"/><use href="#xG" x="139.1" y="345.2"/><use href="#xG" x="137.5" y="351.0"/><use href="#xG" x="135.8" y="356.8"/><use href="#xG" x="134.7" y="362.6"/><use href="#xG" x="132.9" y="368.3"/><use href="#xG" x="130.6" y="373.8"/><use href="#xG" x="129.4" y="379.7"/><use href="#xG" x="128.1" y="385.6"/><use href="#xG" x="125.5" y="391.0"/><use href="#xG" x="122.7" y="396.2"/><use href="#xG" x="121.0" y="399.0"/>
<use href="#xG" x="112.0" y="406.0"/><use href="#xG" x="110.0" y="416.0"/><use href="#xG" x="116.0" y="421.0"/><use href="#xG" x="115.0" y="432.0"/><use href="#xG" x="107.0" y="441.0"/><use href="#xG" x="106.0" y="334.0"/><use href="#xG" x="108.0" y="336.0"/><use href="#xG" x="105.0" y="354.0"/><use href="#xG" x="117.0" y="358.0"/><use href="#xG" x="119.0" y="360.0"/><use href="#xG" x="115.0" y="370.0"/><use href="#xG" x="114.0" y="381.0"/><use href="#xG" x="105.0" y="396.0"/><use href="#xG" x="111.0" y="318.0"/><use href="#xG" x="108.0" y="326.0"/><use href="#xG" x="150.0" y="322.0"/><use href="#xG" x="154.0" y="320.0"/><use href="#xG" x="156.0" y="316.0"/><use href="#xG" x="160.0" y="314.0"/>
<polygon points="128.0,312.0 140.0,298.0 160.0,278.0 180.0,266.0 200.0,254.0 212.0,246.0 224.0,236.0 240.0,233.0 262.0,240.0 262.0,258.0 252.0,263.0 240.0,272.0 224.0,284.0 208.0,296.0 194.0,301.0 168.0,308.0 152.0,316.0 134.0,320.0" fill="url(#pBm)"/>
<polygon points="140.0,300.0 160.0,282.0 180.0,270.0 200.0,258.0 214.0,250.0 226.0,240.0 242.0,236.0 262.0,242.0 258.0,252.0 240.0,258.0 224.0,268.0 206.0,276.0 188.0,282.0 170.0,290.0 152.0,302.0 138.0,312.0" fill="url(#pBd)"/>
<polygon points="222.3,232.3 232.9,231.1 244.7,232.3 256.4,234.6 264.6,239.3 264.6,252.3 274.0,253.4 283.4,251.1 289.3,244.0 295.2,225.2 297.5,220.5 302.3,232.3 304.6,261.7 302.3,261.7 296.4,246.4 289.3,255.8 279.9,260.5 269.3,261.7 262.3,259.3 250.5,255.8 238.8,249.9 227.0,246.4 215.3,249.9 203.5,255.8 191.8,261.7 185.0,262.0 200.0,250.0 212.0,242.0" fill="#732a00"/>
<use href="#xB" x="135.0" y="318.0"/><use href="#xB" x="133.1" y="321.0"/><use href="#xB" x="131.3" y="323.9"/><use href="#xB" x="129.6" y="327.0"/><use href="#xB" x="128.3" y="330.2"/><use href="#xB" x="127.0" y="333.5"/><use href="#xB" x="125.7" y="336.7"/><use href="#xB" x="124.4" y="340.0"/><use href="#xB" x="123.1" y="343.2"/><use href="#xB" x="121.8" y="346.5"/><use href="#xB" x="120.5" y="349.7"/><use href="#xB" x="119.2" y="353.0"/><use href="#xB" x="117.9" y="356.2"/><use href="#xB" x="116.3" y="359.4"/><use href="#xB" x="114.8" y="362.5"/><use href="#xB" x="113.4" y="365.7"/><use href="#xB" x="112.1" y="369.0"/><use href="#xB" x="110.9" y="372.3"/><use href="#xB" x="110.1" y="375.7"/><use href="#xB" x="109.2" y="379.0"/><use href="#xB" x="108.7" y="382.5"/><use href="#xB" x="108.4" y="386.0"/><use href="#xB" x="108.1" y="389.5"/><use href="#xB" x="107.6" y="392.9"/><use href="#xB" x="107.2" y="396.4"/><use href="#xB" x="106.7" y="399.9"/><use href="#xB" x="106.3" y="403.4"/><use href="#xB" x="105.8" y="406.8"/><use href="#xB" x="105.3" y="410.3"/><use href="#xB" x="104.9" y="413.8"/><use href="#xB" x="104.5" y="417.2"/><use href="#xB" x="104.3" y="420.7"/><use href="#xB" x="104.1" y="424.2"/><use href="#xB" x="104.0" y="427.7"/><use href="#xB" x="104.0" y="431.2"/><use href="#xB" x="104.0" y="434.0"/>
<use href="#xB" x="110.0" y="322.0"/><use href="#xB" x="114.0" y="320.0"/><use href="#xB" x="118.0" y="318.0"/><use href="#xB" x="106.0" y="322.0"/><use href="#xB" x="104.0" y="446.0"/><use href="#xB" x="104.0" y="452.0"/><use href="#xB" x="112.0" y="312.0"/><use href="#xB" x="116.0" y="314.0"/><use href="#xB" x="120.0" y="316.0"/>
<polygon points="106.0,222.0 112.0,214.0 120.0,208.0 140.0,205.0 160.0,204.0 180.0,206.0 196.0,208.0 206.0,204.0 210.0,210.0 200.0,228.0 190.0,232.0 170.0,236.0 150.0,240.0 130.0,238.0 112.0,240.0 106.0,250.0" fill="url(#pLm)"/>
<use href="#xL" x="117.0" y="302.0"/><use href="#xL" x="120.1" y="298.7"/><use href="#xL" x="123.1" y="295.4"/><use href="#xL" x="126.2" y="292.1"/><use href="#xL" x="129.3" y="288.8"/><use href="#xL" x="133.0" y="286.3"/><use href="#xL" x="136.7" y="283.8"/><use href="#xL" x="140.5" y="281.3"/><use href="#xL" x="144.6" y="279.5"/><use href="#xL" x="148.7" y="277.8"/><use href="#xL" x="152.9" y="276.0"/><use href="#xL" x="157.2" y="274.6"/><use href="#xL" x="161.4" y="273.2"/><use href="#xL" x="165.7" y="271.7"/><use href="#xL" x="169.8" y="269.8"/><use href="#xL" x="173.9" y="268.0"/><use href="#xL" x="178.0" y="266.2"/><use href="#xL" x="182.1" y="264.4"/><use href="#xL" x="186.3" y="262.7"/><use href="#xL" x="190.5" y="261.2"/><use href="#xL" x="194.8" y="259.7"/><use href="#xL" x="199.1" y="258.3"/><use href="#xL" x="203.2" y="256.6"/><use href="#xL" x="207.4" y="254.8"/><use href="#xL" x="211.5" y="253.1"/><use href="#xL" x="214.0" y="252.0"/>
<use href="#xL" x="106.0" y="300.0"/><use href="#xL" x="109.1" y="294.9"/><use href="#xL" x="112.2" y="289.8"/><use href="#xL" x="116.5" y="285.5"/><use href="#xL" x="120.8" y="281.3"/><use href="#xL" x="125.4" y="277.5"/><use href="#xL" x="130.0" y="273.7"/><use href="#xL" x="135.0" y="270.3"/><use href="#xL" x="140.2" y="267.3"/><use href="#xL" x="145.4" y="264.4"/><use href="#xL" x="150.9" y="261.9"/><use href="#xL" x="156.4" y="259.6"/><use href="#xL" x="160.0" y="258.0"/>
<use href="#xL" x="106.0" y="260.0"/><use href="#xL" x="104.0" y="270.0"/><use href="#xL" x="105.0" y="280.0"/><use href="#xL" x="108.0" y="356.0"/><use href="#xL" x="110.0" y="338.0"/><use href="#xL" x="115.0" y="339.0"/><use href="#xL" x="104.0" y="312.0"/><use href="#xL" x="107.0" y="324.0"/><use href="#xL" x="104.0" y="290.0"/>
<polygon points="180.0,215.8 191.8,208.8 203.5,205.2 209.4,200.5 215.3,197.0 221.1,192.3 227.0,188.8" fill="url(#pLm)"/>
<polygon points="180.0,215.8 191.8,208.8 203.5,205.2 205.0,220.0 200.0,236.0 191.8,232.3 180.0,232.3" fill="url(#pLm)"/>
<polygon points="203.5,205.2 209.4,200.5 215.3,197.0 221.1,192.3 227.0,188.8 234.1,190.0 244.7,191.1 255.2,187.6 257.6,179.4 261.1,152.4 262.9,152.4 263.5,179.4 264.6,197.0 272.9,199.4 274.0,215.8 276.4,218.2 279.9,192.3 285.8,188.8 290.5,181.7 295.2,185.3 299.9,187.6 303.4,197.0 303.4,202.9 297.5,206.4 290.5,215.8 283.4,222.9 274.0,232.3 269.3,237.0 267.0,253.4 264.6,253.4 264.0,237.0 256.4,232.3 244.7,229.9 236.4,231.1 229.4,229.9 224.7,234.6 218.8,241.7 212.9,242.9 207.0,244.0 203.5,239.3 197.6,234.6 205.0,220.0" fill="#8080ff"/>
<polygon points="219.0,208.0 226.0,206.0 232.0,212.0 230.0,222.0 222.0,222.0" fill="url(#pGm)"/>
<polygon points="199.0,224.0 210.0,220.0 221.0,222.0 221.0,232.0 214.0,238.0 205.0,240.0 199.0,236.0" fill="#009b48"/>
<polygon points="278.7,165.3 292.0,168.0 301.0,175.0 298.0,184.0 285.0,186.0 279.0,182.0" fill="url(#pLs)"/>
<polygon points="260.0,146.0 263.0,143.0 265.0,200.0 266.0,262.0 263.0,262.0 261.0,200.0" fill="#8080ff"/>
<use href="#xL" x="298.0" y="164.0"/><use href="#xL" x="300.0" y="168.0"/><use href="#xL" x="280.0" y="178.0"/><use href="#xL" x="262.0" y="142.0"/>
<polygon points="326.0,194.0 336.0,192.0 340.0,198.0 330.0,202.0" fill="#009b48"/>
<polygon points="360.0,188.0 366.0,190.0 367.0,202.0 361.0,200.0" fill="#ff6400"/>
<polygon points="382.0,196.0 385.0,196.0 385.0,206.0 382.0,206.0" fill="#ff6400"/>
<polygon points="326.0,216.0 340.0,213.0 348.0,209.0 356.0,215.0 362.0,222.0 361.0,240.0 359.0,240.0 357.0,226.0 350.0,221.0 340.0,221.0 326.0,223.0" fill="#732a00"/>
<polygon points="354.0,214.0 362.0,216.0 360.0,222.0 352.0,220.0" fill="#009b48"/>
<polygon points="326.0,202.0 334.0,194.0 342.0,188.0 350.0,181.0 356.0,186.0 362.0,192.0 366.0,198.0 367.0,172.0 369.0,172.0 371.0,198.0 378.0,199.0 385.0,205.0 386.0,216.0 378.0,226.0 370.0,229.0 362.0,224.0 354.0,214.0 346.0,208.0 338.0,206.0 330.0,208.0 326.0,206.0" fill="#8080ff"/>
<polygon points="334.0,204.0 344.0,202.0 354.0,210.0 348.0,212.0 338.0,208.0" fill="#732a00"/>
<polygon points="398.0,166.0 406.0,165.0 406.0,172.0 398.0,172.0" fill="#ff6400"/>
<path d="M408.0 178.0 L414.0 166.0 L420.0 154.0" fill="none" stroke="#ff6400" stroke-width="4" stroke-linejoin="round" stroke-linecap="round"/>
<path d="M408.0 202.0 L413.0 190.0 L418.0 178.0" fill="none" stroke="#732a00" stroke-width="4" stroke-linejoin="round" stroke-linecap="round"/>
<path d="M410.0 208.0 L415.0 203.0 L420.0 198.0" fill="none" stroke="#009b48" stroke-width="4" stroke-linejoin="round" stroke-linecap="round"/>
<polygon points="392.0,184.0 398.0,172.0 402.0,174.0 410.0,160.0 416.0,146.0 418.0,138.0 421.0,140.0 418.0,150.0 410.0,176.0 406.0,180.0 406.0,208.0 402.0,214.0 394.0,214.0 392.0,200.0" fill="#8080ff"/>
<polygon points="392.0,212.0 408.0,210.0 408.0,220.0 392.0,220.0" fill="#732a00"/>
<polygon points="393.0,218.0 409.0,216.0 408.0,226.0 398.0,232.0 393.0,228.0" fill="#009b48"/>
<polygon points="482.0,214.0 486.0,214.0 487.0,229.0 484.0,229.0" fill="#ff6400"/>
<polygon points="488.0,214.0 492.0,214.0 492.0,227.0 489.0,227.0" fill="#ff6400"/>
<polygon points="468.0,203.0 477.0,205.0 485.0,205.0 482.0,214.0 479.0,214.0 472.0,209.0" fill="#009b48"/>
<polygon points="492.0,177.0 503.0,182.0 514.0,185.0 526.0,180.0 538.0,177.0 547.0,173.0 555.0,169.0 557.0,164.0 561.0,163.0 559.0,169.0 553.0,174.0 544.0,180.0 531.0,184.0 522.0,188.0 520.0,197.0 514.0,207.0 507.0,197.0 501.0,186.0 494.0,181.0" fill="#009b48"/>
<polygon points="559.0,152.0 569.0,149.0 570.0,156.0 560.0,158.0" fill="#009b48"/>
<polygon points="572.0,159.0 578.0,158.0 578.0,164.0 572.0,164.0" fill="#009b48"/>
<polygon points="576.0,168.0 584.0,167.0 584.0,174.0 577.0,174.0" fill="#009b48"/>
<polygon points="468.0,199.0 473.0,194.0 484.0,203.0 485.0,206.0 477.0,206.0 468.0,205.0" fill="#732a00"/>
<polygon points="481.0,166.0 486.0,170.0 488.0,197.0 486.0,206.0 484.0,186.0" fill="#732a00"/>
<polygon points="489.0,162.0 498.0,166.0 509.0,171.0 520.0,174.0 527.0,177.0 520.0,182.0 511.0,184.0 503.0,182.0 496.0,180.0 490.0,177.0" fill="#732a00"/>
<polygon points="523.0,162.0 531.0,157.0 537.0,161.0 545.0,158.0 553.0,151.0 558.0,143.0 563.0,139.0 569.0,140.0 570.0,136.0 571.0,145.0 577.0,151.0 584.0,156.0 583.0,161.0 579.0,159.0 574.0,156.0 569.0,149.0 561.0,150.0 555.0,157.0 547.0,162.0 540.0,169.0 531.0,166.0 526.0,164.0" fill="#732a00"/>
<use href="#xB" x="570.0" y="132.0"/><use href="#xB" x="570.0" y="135.0"/>
<use href="#xG" x="570.0" y="129.0"/>
<polygon points="490.0,147.0 498.0,142.0 507.0,140.0 514.0,144.0 518.0,151.0 520.0,159.0 525.0,164.0 531.0,166.0 540.0,169.0 547.0,166.0 555.0,159.0 561.0,153.0 566.0,155.0 570.0,157.0 570.0,162.0 574.0,164.0 580.0,163.0 584.0,164.0 584.0,169.0 580.0,170.0 572.0,169.0 566.0,166.0 559.0,165.0 553.0,168.0 547.0,171.0 540.0,174.0 531.0,176.0 525.0,177.0 520.0,174.0 514.0,171.0 505.0,169.0 498.0,166.0 492.0,164.0 490.0,156.0" fill="#8080ff"/>
<polygon points="496,148 506,145 513,150 516,158 514,165 505,166 497,162 494,155" fill="#fff"/>
<polygon points="496.0,148.0 506.0,145.0 513.0,150.0 516.0,158.0 514.0,165.0 505.0,166.0 497.0,162.0 494.0,155.0" fill="url(#pLd)"/>
<polygon points="247.0,222.5 257.0,222.5 257.0,225.5 247.0,225.5" fill="#732a00"/>
<polygon points="468.0,180.0 471.0,175.0 480.0,164.0 482.0,166.0 483.0,186.0 485.0,197.0 484.0,200.0 481.0,198.0 475.0,193.0 469.0,186.0" fill="#8080ff"/>
<polygon points="481.5,139.0 485.0,139.0 491.0,200.0 490.0,206.0 488.0,206.0 482.0,160.0" fill="#8080ff"/>
<polygon points="558.0,162.0 564.0,162.0 564.0,167.0 558.0,167.0" fill="#ff6400"/>
<polygon points="800.6,157.2 810.9,146.9 826.5,141.7 847.2,140.6 868.0,141.7 888.7,145.8 899.1,151.0 905.0,157.0 905.0,165.0 885.0,168.0 862.8,171.7 852.4,175.9 842.0,174.9 826.5,173.8 810.9,175.9 795.4,178.0" fill="url(#pOm)"/>
<use href="#xO" x="794.0" y="180.0"/><use href="#xO" x="793.4" y="184.5"/><use href="#xO" x="793.1" y="188.9"/><use href="#xO" x="793.7" y="193.4"/><use href="#xO" x="793.8" y="197.9"/><use href="#xO" x="793.2" y="202.3"/><use href="#xO" x="793.0" y="204.0"/>
<polygon points="790.0,160.0 800.0,150.0 816.0,143.0 847.0,149.0 878.0,157.0 900.0,160.0 915.0,158.0 920.0,153.0 909.4,140.6 899.1,132.3 888.7,125.1 878.3,119.9 862.8,113.7 847.2,108.5 831.7,105.4 814.0,105.4 805.7,109.5 798.5,118.9 793.3,131.3 791.2,141.7" fill="url(#pLs)"/>
<polygon points="800.0,111.0 806.0,107.5 814.0,104.6 832.0,104.6 847.0,107.5 863.0,112.5 878.0,118.5 889.0,124.0 899.0,131.0 909.0,139.0 905.0,141.0 895.0,134.0 885.0,128.0 873.0,122.0 860.0,117.0 845.0,112.0 830.0,109.0 815.0,109.0 805.0,113.0" fill="url(#pLm)"/>
<use href="#xL" x="790.0" y="160.0"/><use href="#xL" x="790.9" y="165.4"/><use href="#xL" x="790.6" y="170.9"/><use href="#xL" x="790.1" y="176.4"/><use href="#xL" x="789.6" y="181.9"/><use href="#xL" x="789.1" y="187.3"/><use href="#xL" x="789.5" y="192.8"/><use href="#xL" x="790.0" y="198.0"/>
<polygon points="794.6,187.7 821.6,189.8 842.4,187.7 863.2,177.3 884.0,166.9 904.8,158.6 915.2,158.6 915.0,180.0 904.8,177.3 884.0,181.5 863.2,189.8 842.4,200.2 821.6,206.4 794.6,202.3" fill="url(#pGm)"/>
<polygon points="880.0,168.0 904.8,159.0 915.0,160.0 915.0,180.0 904.8,177.3 884.0,181.0" fill="url(#pGm)"/>
<polygon points="790.4,206.4 821.6,202.3 842.4,194.0 863.2,181.5 884.0,169.0 904.8,158.6 915.0,160.0 915.2,181.5 894.4,194.0 873.6,206.4 852.8,214.8 832.0,218.9 811.2,225.2 790.4,223.1" fill="url(#pBm)"/>
<polygon points="850.0,190.0 870.0,178.0 890.0,168.0 905.0,162.0 912.0,170.0 895.0,182.0 875.0,195.0 855.0,203.0" fill="url(#pBm)"/>
<polygon points="852.0,175.0 870.0,165.0 893.0,160.0 909.0,160.0 914.0,175.0 912.0,195.0 890.0,198.0 870.0,199.0 852.0,190.0" fill="url(#pGm)"/>
<polygon points="856.0,174.0 880.0,165.0 895.0,162.0 909.0,160.0 912.0,172.0 905.0,188.0 885.0,196.0 862.0,196.0" fill="url(#pBm)"/>
<polygon points="894.0,155.0 909.0,155.0 909.0,164.0 894.0,164.0" fill="url(#pBd)"/>
<polygon points="792.0,226.0 812.0,228.0 832.0,222.0 852.0,218.0 872.0,210.0 872.0,216.0 852.0,226.0 832.0,236.0 812.0,240.0 792.0,240.0" fill="url(#pGs)"/>
<use href="#xG" x="800.8" y="235.6"/><use href="#xG" x="804.9" y="237.4"/><use href="#xG" x="809.1" y="239.2"/><use href="#xG" x="813.1" y="241.2"/><use href="#xG" x="817.0" y="243.4"/><use href="#xG" x="820.9" y="245.6"/><use href="#xG" x="824.7" y="248.1"/><use href="#xG" x="828.4" y="250.6"/><use href="#xG" x="832.1" y="253.1"/><use href="#xG" x="835.8" y="255.7"/><use href="#xG" x="839.4" y="258.4"/><use href="#xG" x="843.1" y="261.0"/><use href="#xG" x="846.6" y="263.8"/><use href="#xG" x="850.1" y="266.6"/><use href="#xG" x="852.8" y="268.8"/>
<polygon points="800.8,260.5 821.6,248.0 842.4,235.6 863.2,227.2 884.0,223.1 904.8,218.9 925.6,214.8 929.7,235.6 915.2,239.7 894.4,248.0 873.6,256.4 852.8,264.7 832.0,270.9 811.2,277.1 790.4,287.5 790.0,275.0" fill="url(#pLm)"/>
<polygon points="805.0,262.0 830.0,252.0 855.0,242.0 880.0,234.0 905.0,228.0 920.0,230.0 900.0,240.0 875.0,250.0 850.0,258.0 825.0,266.0 805.0,274.0" fill="url(#pOs)"/>
<polygon points="805.0,272.0 830.0,264.0 855.0,256.0 880.0,248.0 900.0,244.0 880.0,254.0 855.0,262.0 830.0,270.0 806.0,280.0" fill="url(#pGs)"/>
<use href="#xO" x="794.0" y="303.0"/><use href="#xO" x="801.0" y="304.0"/><use href="#xO" x="799.0" y="313.0"/><use href="#xO" x="806.0" y="297.0"/><use href="#xO" x="811.0" y="288.0"/><use href="#xO" x="788.0" y="292.0"/><use href="#xO" x="797.0" y="296.0"/>
<use href="#xL" x="801.0" y="290.0"/><use href="#xL" x="799.0" y="297.0"/><use href="#xL" x="795.0" y="284.0"/><use href="#xL" x="792.0" y="292.0"/>
<use href="#xB" x="946.0" y="116.0"/><use href="#xB" x="946.2" y="121.5"/><use href="#xB" x="946.5" y="127.0"/><use href="#xB" x="946.7" y="132.5"/><use href="#xB" x="946.9" y="138.0"/><use href="#xB" x="947.1" y="143.5"/><use href="#xB" x="947.2" y="149.0"/><use href="#xB" x="947.4" y="154.5"/><use href="#xB" x="947.5" y="160.0"/><use href="#xB" x="947.6" y="165.5"/><use href="#xB" x="947.8" y="171.0"/><use href="#xB" x="947.9" y="176.5"/><use href="#xB" x="948.0" y="182.0"/><use href="#xB" x="948.2" y="187.5"/><use href="#xB" x="948.3" y="193.0"/><use href="#xB" x="948.5" y="198.5"/><use href="#xB" x="948.6" y="204.0"/><use href="#xB" x="948.7" y="209.5"/><use href="#xB" x="948.9" y="215.0"/><use href="#xB" x="949.0" y="220.5"/><use href="#xB" x="949.0" y="226.0"/><use href="#xB" x="949.0" y="231.5"/><use href="#xB" x="949.0" y="237.0"/><use href="#xB" x="949.0" y="242.5"/><use href="#xB" x="949.0" y="248.0"/><use href="#xB" x="949.0" y="253.5"/><use href="#xB" x="949.0" y="259.0"/><use href="#xB" x="949.0" y="264.5"/><use href="#xB" x="949.0" y="270.0"/><use href="#xB" x="949.0" y="275.5"/><use href="#xB" x="949.0" y="281.0"/><use href="#xB" x="949.0" y="286.5"/><use href="#xB" x="949.0" y="292.0"/><use href="#xB" x="949.0" y="297.5"/><use href="#xB" x="949.0" y="303.0"/><use href="#xB" x="949.0" y="308.0"/>
<use href="#xB" x="815.0" y="286.0"/><use href="#xB" x="812.8" y="292.6"/><use href="#xB" x="810.8" y="299.3"/><use href="#xB" x="809.5" y="306.2"/><use href="#xB" x="808.3" y="313.1"/><use href="#xB" x="807.0" y="320.0"/><use href="#xB" x="805.7" y="326.9"/><use href="#xB" x="804.5" y="333.8"/><use href="#xB" x="803.2" y="340.7"/><use href="#xB" x="802.0" y="347.5"/><use href="#xB" x="800.7" y="354.4"/><use href="#xB" x="799.8" y="361.3"/><use href="#xB" x="799.4" y="368.3"/><use href="#xB" x="799.0" y="375.3"/><use href="#xB" x="799.0" y="382.3"/><use href="#xB" x="798.9" y="389.3"/><use href="#xB" x="797.8" y="396.2"/><use href="#xB" x="796.7" y="403.1"/><use href="#xB" x="795.6" y="410.1"/><use href="#xB" x="794.8" y="417.0"/><use href="#xB" x="794.3" y="424.0"/><use href="#xB" x="794.0" y="431.0"/><use href="#xB" x="794.0" y="432.0"/>
<use href="#xB" x="820.0" y="329.0"/><use href="#xB" x="818.1" y="334.7"/><use href="#xB" x="815.8" y="340.2"/><use href="#xB" x="812.9" y="345.4"/><use href="#xB" x="810.1" y="350.8"/><use href="#xB" x="806.2" y="355.1"/><use href="#xB" x="805.0" y="356.0"/>
<use href="#xB" x="821.6" y="316.7"/><use href="#xB" x="824.5" y="314.6"/><use href="#xB" x="827.5" y="312.6"/><use href="#xB" x="830.4" y="310.5"/><use href="#xB" x="833.4" y="308.4"/><use href="#xB" x="836.3" y="306.4"/><use href="#xB" x="839.3" y="304.3"/><use href="#xB" x="842.2" y="302.2"/><use href="#xB" x="845.3" y="300.4"/><use href="#xB" x="848.4" y="298.5"/><use href="#xB" x="851.5" y="296.6"/><use href="#xB" x="854.6" y="294.8"/><use href="#xB" x="857.6" y="292.9"/><use href="#xB" x="860.7" y="291.1"/><use href="#xB" x="863.8" y="289.2"/><use href="#xB" x="866.9" y="287.5"/><use href="#xB" x="870.1" y="285.7"/><use href="#xB" x="873.2" y="283.9"/><use href="#xB" x="876.3" y="282.1"/><use href="#xB" x="878.9" y="279.7"/><use href="#xB" x="881.1" y="276.8"/><use href="#xB" x="883.3" y="274.0"/><use href="#xB" x="885.5" y="271.2"/><use href="#xB" x="887.8" y="268.4"/><use href="#xB" x="890.1" y="265.6"/><use href="#xB" x="892.4" y="262.9"/><use href="#xB" x="894.9" y="260.2"/><use href="#xB" x="897.9" y="258.4"/><use href="#xB" x="901.0" y="256.5"/><use href="#xB" x="904.1" y="254.7"/><use href="#xB" x="907.2" y="252.8"/><use href="#xB" x="910.3" y="251.0"/><use href="#xB" x="913.4" y="249.1"/><use href="#xB" x="916.5" y="247.2"/><use href="#xB" x="919.6" y="245.4"/><use href="#xB" x="922.6" y="243.6"/><use href="#xB" x="925.8" y="241.8"/><use href="#xB" x="929.3" y="241.1"/><use href="#xB" x="932.8" y="240.3"/><use href="#xB" x="936.0" y="239.7"/>
<use href="#xB" x="850.7" y="316.7"/><use href="#xB" x="853.9" y="314.0"/><use href="#xB" x="857.2" y="311.3"/><use href="#xB" x="860.4" y="308.6"/><use href="#xB" x="863.6" y="305.9"/><use href="#xB" x="866.6" y="302.9"/><use href="#xB" x="869.5" y="300.0"/><use href="#xB" x="872.5" y="297.0"/><use href="#xB" x="875.5" y="294.0"/><use href="#xB" x="878.4" y="291.1"/><use href="#xB" x="881.4" y="288.1"/><use href="#xB" x="884.3" y="285.1"/><use href="#xB" x="886.6" y="281.6"/><use href="#xB" x="888.9" y="278.1"/><use href="#xB" x="891.3" y="274.6"/><use href="#xB" x="893.6" y="271.1"/><use href="#xB" x="896.0" y="267.7"/><use href="#xB" x="898.4" y="264.2"/><use href="#xB" x="900.0" y="262.0"/>
<use href="#xB" x="791.0" y="232.0"/><use href="#xB" x="792.4" y="236.8"/><use href="#xB" x="793.7" y="241.6"/><use href="#xB" x="795.2" y="246.4"/><use href="#xB" x="797.1" y="251.0"/><use href="#xB" x="799.0" y="255.6"/><use href="#xB" x="801.1" y="260.2"/><use href="#xB" x="803.3" y="264.7"/><use href="#xB" x="805.6" y="269.1"/><use href="#xB" x="807.8" y="273.6"/><use href="#xB" x="810.0" y="278.1"/><use href="#xB" x="812.0" y="282.0"/>
<polygon points="906.8,133.7 915.2,119.1 921.4,133.7 929.7,139.9 946.4,139.9 956.8,144.1 956.8,156.5 946.4,169.0 938.0,166.9 925.6,152.4 913.1,146.1" fill="url(#pBd)"/>
<polygon points="900.0,200.0 920.0,186.0 940.0,190.0 955.0,205.0 960.0,235.0 950.0,246.0 930.0,248.0 910.0,236.0" fill="url(#pBm)"/>
<polygon points="920.0,200.0 945.0,205.0 960.0,215.0 958.0,240.0 945.0,240.0 930.0,225.0" fill="url(#pGm)"/>
<polygon points="896.0,160.0 912.0,150.0 930.0,162.0 945.0,185.0 955.0,205.0 960.0,230.0 955.0,250.0 940.0,240.0 925.0,228.0 905.0,214.0 893.0,205.0 900.0,190.0" fill="url(#pLd)"/>
<polygon points="956.8,146.0 966.0,140.0 980.0,142.0 988.0,150.0 988.0,190.0 980.0,206.0 965.0,215.0 955.0,200.0" fill="url(#pLd)"/>
<path d="M906.0 146.0 L916.0 160.0 L926.0 175.0 L936.0 192.0 L944.0 208.0 L949.0 225.0 L951.0 245.0 L951.0 270.0" fill="none" stroke="#8080ff" stroke-width="5" stroke-linejoin="round" stroke-linecap="round"/>
<use href="#xL" x="982.0" y="100.0"/><use href="#xL" x="982.0" y="106.0"/><use href="#xL" x="982.0" y="112.0"/><use href="#xL" x="982.5" y="118.0"/><use href="#xL" x="982.9" y="124.0"/><use href="#xL" x="983.4" y="129.9"/><use href="#xL" x="983.8" y="135.9"/><use href="#xL" x="984.8" y="141.8"/><use href="#xL" x="985.9" y="147.7"/><use href="#xL" x="986.0" y="148.0"/>
<polygon points="955.0,210.0 977.0,206.0 988.0,190.0 988.0,218.0 988.0,236.0 965.0,238.0 955.0,228.0" fill="#009b48"/>
<polygon points="963.0,214.0 975.0,208.0 988.0,210.0 988.0,236.0 981.0,238.0 975.0,230.0 963.0,228.0" fill="#732a00"/>
<polygon points="957.0,238.0 967.0,234.0 968.0,250.0 960.0,250.0" fill="#ff6400"/>
<polygon points="975.0,234.0 988.0,234.0 989.0,250.0 980.0,246.0" fill="#ff6400"/>
<polygon points="1016.0,171.0 1030.0,163.0 1041.0,151.0 1047.0,137.0 1050.0,154.0 1050.0,169.0 1044.0,181.0 1030.0,184.0 1016.0,184.0" fill="url(#pLm)"/>
<polygon points="1010.0,202.0 1022.0,206.0 1034.0,208.0 1044.0,205.0 1053.0,199.0 1062.0,196.0 1069.0,194.0 1070.0,220.0 1065.0,226.0 1056.0,224.0 1044.0,224.0 1040.0,227.0 1036.0,223.0 1027.0,217.0 1012.0,215.0 1009.6,211.0" fill="#732a00"/>
<polygon points="1010.0,181.0 1015.0,196.0 1022.0,200.0 1030.0,196.0 1036.0,193.0 1038.0,180.0 1044.0,178.0 1049.0,175.0 1052.0,159.0 1055.0,177.0 1059.0,189.0 1064.0,172.0 1070.0,171.0 1069.0,193.0 1059.0,198.0 1052.0,199.0 1044.0,205.0 1041.0,217.0 1037.0,215.0 1034.0,206.0 1022.0,208.0 1013.0,205.0 1009.6,193.0" fill="#8080ff"/>
<polygon points="1052.0,159.0 1056.0,162.0 1061.0,172.0 1064.0,184.0 1059.0,184.0 1055.0,175.0 1052.0,169.0" fill="#009b48"/>
<polygon points="1045.0,184.0 1049.0,184.0 1049.0,205.0 1045.0,205.0" fill="#009b48"/>
<polygon points="1009.6,191.0 1013.0,194.0 1013.0,205.0 1010.0,204.0" fill="#009b48"/>
<polygon points="1076.0,181.0 1080.0,175.0 1089.0,160.0 1093.0,159.0 1092.0,172.0 1096.0,166.0 1104.0,148.0 1106.0,150.0 1101.0,166.0 1095.0,180.0 1086.0,187.0 1077.0,190.0" fill="#009b48"/>
<polygon points="1081.0,170.0 1087.0,168.0 1088.0,180.0 1082.0,180.0" fill="#ff6400"/>
<path d="M1092.0 190.0 L1100.0 174.0 L1106.0 160.0" fill="none" stroke="#ff6400" stroke-width="2.5" stroke-linejoin="round" stroke-linecap="round"/>
<polygon points="1076.0,193.0 1080.0,187.0 1086.0,180.0 1089.0,169.0 1092.0,175.0 1098.0,169.0 1104.0,154.0 1106.0,153.0 1104.0,166.0 1096.0,178.0 1090.0,190.0 1092.0,202.0 1093.0,217.0 1090.0,217.0 1086.0,205.0 1080.0,199.0 1076.0,200.0" fill="#8080ff"/>
<polygon points="1076.0,200.0 1083.0,202.0 1086.0,214.0 1080.0,215.0 1076.0,214.0" fill="#732a00"/>
<path d="M1092.0 205.0 L1098.0 195.0 L1104.0 186.0" fill="none" stroke="#732a00" stroke-width="5" stroke-linejoin="round" stroke-linecap="round"/>
<polygon points="1089.0,190.0 1093.0,190.0 1093.0,196.0 1089.0,196.0" fill="#732a00"/>
<polygon points="1153.0,168.0 1162.0,140.0 1165.0,138.0 1166.0,157.0 1164.0,176.0 1159.0,179.0 1153.0,174.0" fill="#009b48"/>
<polygon points="1167.0,132.0 1170.0,132.0 1172.0,149.0 1171.0,166.0 1168.0,162.0 1167.0,148.0" fill="#009b48"/>
<polygon points="1179.0,162.0 1187.0,146.0 1197.0,128.0 1199.0,128.0 1202.0,146.0 1197.0,155.0 1190.0,162.0 1183.0,163.0" fill="#009b48"/>
<path d="M1225.0 164.0 L1235.0 155.0 L1243.0 142.0 L1249.0 135.0 L1256.0 136.0 L1263.0 129.0" fill="none" stroke="#009b48" stroke-width="6" stroke-linejoin="round" stroke-linecap="round"/>
<polygon points="1153.0,200.0 1164.0,164.0 1168.0,148.0 1173.0,160.0 1176.0,172.0 1179.0,164.0 1190.0,160.0 1202.0,148.0 1205.0,138.0 1206.0,147.0 1213.0,157.0 1219.0,157.0 1225.0,164.0 1235.0,164.0 1244.0,160.0 1249.0,155.0 1254.0,146.0 1258.0,138.0 1263.0,130.0 1270.0,129.0 1270.0,133.0 1264.0,137.0 1258.0,148.0 1251.0,160.0 1244.0,166.0 1235.0,169.0 1225.0,172.0 1213.0,173.0 1202.0,174.0 1187.0,176.0 1179.0,179.0 1176.0,193.0 1174.0,205.0 1172.0,200.0 1170.0,193.0 1167.0,181.0 1165.0,193.0 1160.0,198.0 1154.0,205.0" fill="#8080ff"/>
<polygon points="1204.0,140.0 1212.0,150.0 1220.0,155.0 1210.0,160.0 1200.0,160.0" fill="url(#pLm)"/>
<polygon points="1179.0,179.0 1193.0,176.0 1211.0,179.0 1223.0,181.0 1235.0,174.0 1242.0,167.0 1249.0,161.0 1254.0,162.0 1256.0,172.0 1251.0,176.0 1244.0,172.0 1237.0,181.0 1230.0,186.0 1216.0,191.0 1204.0,192.0 1192.0,184.0 1183.0,182.0" fill="#732a00"/>
<polygon points="1253.0,181.0 1261.0,182.0 1266.0,189.0 1259.0,188.0 1254.0,186.0" fill="#732a00"/>
<polygon points="1153.0,207.0 1160.0,199.0 1167.0,198.0 1170.0,217.0 1171.0,229.0 1168.0,232.0 1164.0,220.0 1153.0,211.0" fill="#732a00"/>
<polygon points="1167.0,168.0 1170.0,169.0 1173.0,193.0 1173.0,229.0 1171.0,229.0 1170.0,199.0" fill="#732a00"/>
<polygon points="1173.0,202.0 1176.0,202.0 1176.0,229.0 1173.0,229.0" fill="#732a00"/>
<polygon points="1176.0,157.0 1183.0,157.0 1183.0,167.0 1176.0,167.0" fill="#732a00"/>
<polygon points="1173.0,151.0 1177.0,151.0 1177.0,156.0 1173.0,156.0" fill="#ff6400"/>
<polygon points="1190.0,184.0 1199.0,186.0 1202.0,192.0 1198.0,195.0 1192.0,191.0" fill="#ff6400"/>
<polygon points="1204.0,172.0 1217.0,175.0 1229.0,172.0 1237.0,168.0 1235.0,174.0 1223.0,181.0 1211.0,180.0 1204.0,176.0" fill="#ff6400"/>
<polygon points="1254.0,163.0 1261.0,160.0 1264.0,167.0 1269.0,170.0 1268.0,174.0 1263.0,173.0 1257.0,169.0" fill="#ff6400"/>
<polygon points="1168.0,170.0 1171.0,170.0 1172.0,193.0 1169.0,193.0" fill="#ff6400"/>
<g opacity="0.75">
<polygon points="104.0,805.5 170.0,803.5 249.0,799.5 269.0,803.5 263.0,815.5 249.0,825.5 240.0,845.0 236.0,862.0 229.4,858.8 218.5,842.6 200.0,834.0 175.0,826.0 150.0,811.0 104.0,807.5" fill="#8080ff"/>
</g>
<g opacity="0.55">
<path d="M120.0 806.5 L200.0 806.0 L249.0 806.0 L265.0 808.0" fill="none" stroke="#732a00" stroke-width="1.5" stroke-linejoin="round" stroke-linecap="round"/>
<path d="M130.0 805.0 L210.0 803.0 L250.0 803.0" fill="none" stroke="#ff6400" stroke-width="1.2" stroke-linejoin="round" stroke-linecap="round"/>
<path d="M150.0 809.0 L215.0 812.0 L250.0 816.0" fill="none" stroke="#732a00" stroke-width="1.4" stroke-linejoin="round" stroke-linecap="round"/>
<path d="M160.0 811.0 L205.0 815.0 L240.0 822.0" fill="none" stroke="#732a00" stroke-width="1.4" stroke-linejoin="round" stroke-linecap="round"/>
<path d="M170.0 810.0 L210.0 813.0 L245.0 818.0" fill="none" stroke="#ff6400" stroke-width="1.2" stroke-linejoin="round" stroke-linecap="round"/>
<path d="M190.0 814.0 L220.0 822.0 L235.0 832.0" fill="none" stroke="#732a00" stroke-width="1.4" stroke-linejoin="round" stroke-linecap="round"/>
<polygon points="150.0,811.0 170.0,812.0 190.0,817.0 200.0,825.0 190.0,826.0 175.0,821.0 160.0,816.0" fill="url(#pOd)"/>
<use href="#xO" x="112.0" y="832.0"/><use href="#xO" x="112.0" y="829.6"/><use href="#xO" x="112.0" y="827.2"/><use href="#xO" x="112.0" y="824.8"/><use href="#xO" x="112.5" y="822.5"/><use href="#xO" x="113.2" y="820.2"/><use href="#xO" x="113.9" y="817.9"/><use href="#xO" x="115.3" y="816.0"/><use href="#xO" x="116.9" y="814.2"/><use href="#xO" x="118.4" y="812.3"/><use href="#xO" x="120.0" y="810.5"/><use href="#xO" x="122.4" y="810.4"/><use href="#xO" x="124.8" y="810.3"/><use href="#xO" x="127.2" y="810.1"/><use href="#xO" x="129.6" y="810.0"/><use href="#xO" x="132.0" y="809.9"/><use href="#xO" x="134.4" y="809.8"/><use href="#xO" x="136.8" y="809.7"/><use href="#xO" x="139.2" y="809.5"/><use href="#xO" x="141.5" y="809.7"/><use href="#xO" x="143.9" y="810.0"/><use href="#xO" x="146.3" y="810.3"/><use href="#xO" x="148.7" y="810.7"/><use href="#xO" x="151.1" y="811.0"/><use href="#xO" x="153.4" y="811.3"/><use href="#xO" x="155.8" y="811.6"/><use href="#xO" x="158.2" y="811.9"/><use href="#xO" x="160.6" y="812.2"/><use href="#xO" x="163.0" y="812.6"/><use href="#xO" x="165.3" y="812.9"/><use href="#xO" x="167.7" y="813.2"/><use href="#xO" x="170.1" y="813.5"/><use href="#xO" x="172.1" y="814.8"/><use href="#xO" x="174.2" y="816.0"/><use href="#xO" x="176.3" y="817.3"/><use href="#xO" x="178.3" y="818.5"/><use href="#xO" x="180.4" y="819.7"/><use href="#xO" x="182.4" y="821.0"/><use href="#xO" x="184.5" y="822.2"/><use href="#xO" x="186.5" y="823.4"/><use href="#xO" x="188.6" y="824.7"/><use href="#xO" x="190.0" y="825.5"/>
<use href="#xG" x="112.0" y="820.0"/><use href="#xG" x="114.1" y="818.8"/><use href="#xG" x="116.2" y="817.6"/><use href="#xG" x="118.3" y="816.5"/><use href="#xG" x="120.4" y="815.5"/><use href="#xG" x="122.8" y="815.4"/><use href="#xG" x="125.2" y="815.3"/><use href="#xG" x="127.6" y="815.2"/><use href="#xG" x="130.0" y="815.2"/><use href="#xG" x="132.4" y="815.1"/><use href="#xG" x="134.8" y="815.0"/><use href="#xG" x="137.2" y="814.9"/><use href="#xG" x="139.6" y="814.8"/><use href="#xG" x="142.0" y="814.8"/><use href="#xG" x="144.4" y="814.7"/><use href="#xG" x="146.8" y="814.6"/><use href="#xG" x="149.2" y="814.5"/><use href="#xG" x="151.6" y="814.7"/><use href="#xG" x="154.0" y="814.9"/><use href="#xG" x="156.4" y="815.1"/><use href="#xG" x="158.8" y="815.4"/><use href="#xG" x="161.1" y="815.6"/><use href="#xG" x="163.5" y="815.9"/><use href="#xG" x="165.9" y="816.1"/><use href="#xG" x="168.3" y="816.3"/><use href="#xG" x="170.7" y="816.6"/><use href="#xG" x="173.1" y="816.8"/><use href="#xG" x="175.5" y="817.0"/><use href="#xG" x="177.9" y="817.3"/><use href="#xG" x="180.2" y="817.6"/><use href="#xG" x="182.5" y="818.3"/><use href="#xG" x="184.8" y="819.0"/><use href="#xG" x="187.1" y="819.6"/><use href="#xG" x="189.4" y="820.3"/><use href="#xG" x="191.7" y="821.0"/><use href="#xG" x="194.0" y="821.7"/><use href="#xG" x="196.3" y="822.4"/><use href="#xG" x="198.6" y="823.1"/><use href="#xG" x="200.0" y="823.5"/>
<use href="#xL" x="118.0" y="825.5"/><use href="#xL" x="120.9" y="826.2"/><use href="#xL" x="123.9" y="826.8"/><use href="#xL" x="126.8" y="827.5"/><use href="#xL" x="129.7" y="828.2"/><use href="#xL" x="132.6" y="828.8"/><use href="#xL" x="135.6" y="829.5"/><use href="#xL" x="138.5" y="830.2"/><use href="#xL" x="141.4" y="830.6"/><use href="#xL" x="144.4" y="830.8"/><use href="#xL" x="147.4" y="831.0"/><use href="#xL" x="150.4" y="831.2"/><use href="#xL" x="153.4" y="831.4"/><use href="#xL" x="156.4" y="831.6"/><use href="#xL" x="159.4" y="831.8"/><use href="#xL" x="162.4" y="832.0"/><use href="#xL" x="165.4" y="832.2"/><use href="#xL" x="168.4" y="832.4"/><use href="#xL" x="171.4" y="832.3"/><use href="#xL" x="174.3" y="831.9"/><use href="#xL" x="177.3" y="831.4"/><use href="#xL" x="180.3" y="831.0"/><use href="#xL" x="183.2" y="830.5"/><use href="#xL" x="186.2" y="830.1"/><use href="#xL" x="189.2" y="829.6"/><use href="#xL" x="190.0" y="829.5"/>
<use href="#xG" x="224.0" y="853.0"/><use href="#xG" x="221.0" y="853.5"/><use href="#xG" x="218.1" y="854.0"/><use href="#xG" x="215.1" y="854.6"/><use href="#xG" x="212.2" y="855.1"/><use href="#xG" x="209.3" y="855.7"/><use href="#xG" x="206.3" y="856.4"/><use href="#xG" x="203.4" y="857.1"/><use href="#xG" x="200.5" y="857.8"/><use href="#xG" x="197.6" y="858.5"/><use href="#xG" x="194.7" y="859.3"/><use href="#xG" x="191.8" y="860.1"/><use href="#xG" x="188.9" y="860.9"/><use href="#xG" x="186.0" y="861.8"/><use href="#xG" x="183.2" y="862.6"/><use href="#xG" x="180.3" y="863.6"/><use href="#xG" x="177.5" y="864.5"/><use href="#xG" x="174.6" y="865.5"/><use href="#xG" x="171.8" y="866.5"/><use href="#xG" x="169.0" y="867.5"/><use href="#xG" x="166.2" y="868.6"/><use href="#xG" x="163.4" y="869.7"/><use href="#xG" x="160.6" y="870.8"/><use href="#xG" x="157.8" y="871.9"/><use href="#xG" x="155.1" y="873.1"/><use href="#xG" x="152.3" y="874.3"/><use href="#xG" x="149.6" y="875.5"/><use href="#xG" x="146.8" y="876.7"/><use href="#xG" x="144.1" y="878.0"/><use href="#xG" x="141.4" y="879.3"/><use href="#xG" x="138.7" y="880.6"/><use href="#xG" x="136.0" y="881.9"/><use href="#xG" x="133.3" y="883.3"/><use href="#xG" x="130.7" y="884.6"/><use href="#xG" x="128.0" y="886.0"/>
<use href="#xG" x="224.0" y="853.0"/><use href="#xG" x="221.0" y="853.3"/><use href="#xG" x="218.0" y="853.6"/><use href="#xG" x="215.0" y="853.9"/><use href="#xG" x="212.1" y="854.3"/><use href="#xG" x="209.1" y="854.7"/><use href="#xG" x="206.1" y="855.2"/><use href="#xG" x="203.2" y="855.7"/><use href="#xG" x="200.2" y="856.2"/><use href="#xG" x="197.3" y="856.8"/><use href="#xG" x="194.3" y="857.3"/><use href="#xG" x="191.4" y="858.0"/><use href="#xG" x="188.5" y="858.6"/><use href="#xG" x="185.5" y="859.3"/><use href="#xG" x="182.6" y="860.0"/><use href="#xG" x="179.7" y="860.8"/><use href="#xG" x="176.8" y="861.5"/><use href="#xG" x="174.0" y="862.4"/><use href="#xG" x="171.1" y="863.2"/><use href="#xG" x="168.2" y="864.1"/><use href="#xG" x="165.4" y="865.0"/><use href="#xG" x="162.5" y="866.0"/><use href="#xG" x="159.7" y="866.9"/><use href="#xG" x="156.8" y="867.9"/><use href="#xG" x="154.0" y="868.9"/><use href="#xG" x="151.2" y="870.0"/><use href="#xG" x="148.4" y="871.1"/><use href="#xG" x="145.6" y="872.2"/><use href="#xG" x="142.9" y="873.4"/><use href="#xG" x="140.1" y="874.5"/><use href="#xG" x="137.3" y="875.7"/><use href="#xG" x="134.6" y="876.9"/><use href="#xG" x="131.9" y="878.2"/><use href="#xG" x="130.0" y="879.0"/>
<use href="#xG" x="224.0" y="853.0"/><use href="#xG" x="221.0" y="853.1"/><use href="#xG" x="218.0" y="853.2"/><use href="#xG" x="215.0" y="853.4"/><use href="#xG" x="212.0" y="853.6"/><use href="#xG" x="209.0" y="853.8"/><use href="#xG" x="206.0" y="854.1"/><use href="#xG" x="203.1" y="854.4"/><use href="#xG" x="200.1" y="854.8"/><use href="#xG" x="197.1" y="855.2"/><use href="#xG" x="194.1" y="855.6"/><use href="#xG" x="191.2" y="856.0"/><use href="#xG" x="188.2" y="856.5"/><use href="#xG" x="185.3" y="857.0"/><use href="#xG" x="182.3" y="857.6"/><use href="#xG" x="179.4" y="858.2"/><use href="#xG" x="176.4" y="858.9"/><use href="#xG" x="173.5" y="859.5"/><use href="#xG" x="170.6" y="860.2"/><use href="#xG" x="167.7" y="861.0"/><use href="#xG" x="164.8" y="861.8"/><use href="#xG" x="161.9" y="862.6"/><use href="#xG" x="159.0" y="863.4"/><use href="#xG" x="156.2" y="864.3"/><use href="#xG" x="153.3" y="865.2"/><use href="#xG" x="150.4" y="866.1"/><use href="#xG" x="147.6" y="867.1"/><use href="#xG" x="144.8" y="868.1"/><use href="#xG" x="142.0" y="869.1"/><use href="#xG" x="139.1" y="870.2"/><use href="#xG" x="136.4" y="871.3"/><use href="#xG" x="133.6" y="872.4"/><use href="#xG" x="132.0" y="873.0"/>
<use href="#xG" x="224.0" y="853.0"/><use href="#xG" x="221.0" y="852.9"/><use href="#xG" x="218.0" y="852.8"/><use href="#xG" x="215.0" y="852.8"/><use href="#xG" x="212.0" y="852.8"/><use href="#xG" x="209.0" y="852.8"/><use href="#xG" x="206.0" y="853.0"/><use href="#xG" x="203.0" y="853.1"/><use href="#xG" x="200.0" y="853.3"/><use href="#xG" x="197.0" y="853.5"/><use href="#xG" x="194.0" y="853.7"/><use href="#xG" x="191.0" y="854.1"/><use href="#xG" x="188.1" y="854.4"/><use href="#xG" x="185.1" y="854.8"/><use href="#xG" x="182.1" y="855.2"/><use href="#xG" x="179.2" y="855.6"/><use href="#xG" x="176.2" y="856.2"/><use href="#xG" x="173.2" y="856.7"/><use href="#xG" x="170.3" y="857.3"/><use href="#xG" x="167.4" y="857.9"/><use href="#xG" x="164.4" y="858.6"/><use href="#xG" x="161.5" y="859.3"/><use href="#xG" x="158.6" y="860.0"/><use href="#xG" x="155.7" y="860.8"/><use href="#xG" x="152.8" y="861.6"/><use href="#xG" x="149.9" y="862.4"/><use href="#xG" x="147.1" y="863.3"/><use href="#xG" x="144.2" y="864.2"/><use href="#xG" x="141.4" y="865.1"/><use href="#xG" x="138.5" y="866.1"/><use href="#xG" x="136.0" y="867.0"/>
<use href="#xG" x="224.0" y="853.0"/><use href="#xG" x="221.0" y="852.7"/><use href="#xG" x="218.0" y="852.4"/><use href="#xG" x="215.0" y="852.2"/><use href="#xG" x="212.0" y="852.0"/><use href="#xG" x="209.1" y="851.8"/><use href="#xG" x="206.1" y="851.7"/><use href="#xG" x="203.1" y="851.6"/><use href="#xG" x="200.1" y="851.6"/><use href="#xG" x="197.1" y="851.7"/><use href="#xG" x="194.1" y="851.7"/><use href="#xG" x="191.1" y="851.9"/><use href="#xG" x="188.1" y="852.0"/><use href="#xG" x="185.1" y="852.3"/><use href="#xG" x="182.1" y="852.5"/><use href="#xG" x="179.1" y="852.8"/><use href="#xG" x="176.1" y="853.2"/><use href="#xG" x="173.1" y="853.6"/><use href="#xG" x="170.2" y="854.0"/><use href="#xG" x="167.2" y="854.5"/><use href="#xG" x="164.3" y="855.0"/><use href="#xG" x="161.3" y="855.6"/><use href="#xG" x="158.4" y="856.2"/><use href="#xG" x="155.5" y="856.8"/><use href="#xG" x="152.5" y="857.5"/><use href="#xG" x="149.6" y="858.3"/><use href="#xG" x="146.7" y="859.0"/><use href="#xG" x="143.8" y="859.9"/><use href="#xG" x="141.0" y="860.7"/><use href="#xG" x="140.0" y="861.0"/>
<use href="#xG" x="224.0" y="853.0"/><use href="#xG" x="221.1" y="852.5"/><use href="#xG" x="218.1" y="851.9"/><use href="#xG" x="215.1" y="851.4"/><use href="#xG" x="212.2" y="851.0"/><use href="#xG" x="209.2" y="850.6"/><use href="#xG" x="206.2" y="850.3"/><use href="#xG" x="203.2" y="850.0"/><use href="#xG" x="200.2" y="849.8"/><use href="#xG" x="197.2" y="849.6"/><use href="#xG" x="194.2" y="849.5"/><use href="#xG" x="191.2" y="849.5"/><use href="#xG" x="188.2" y="849.5"/><use href="#xG" x="185.2" y="849.5"/><use href="#xG" x="182.2" y="849.6"/><use href="#xG" x="179.2" y="849.8"/><use href="#xG" x="176.3" y="850.0"/><use href="#xG" x="173.3" y="850.2"/><use href="#xG" x="170.3" y="850.5"/><use href="#xG" x="167.3" y="850.9"/><use href="#xG" x="164.3" y="851.3"/><use href="#xG" x="161.4" y="851.8"/><use href="#xG" x="158.4" y="852.3"/><use href="#xG" x="155.5" y="852.9"/><use href="#xG" x="152.5" y="853.5"/><use href="#xG" x="149.6" y="854.1"/><use href="#xG" x="146.7" y="854.8"/><use href="#xG" x="146.0" y="855.0"/>
<use href="#xG" x="224.0" y="853.0"/><use href="#xG" x="221.1" y="852.2"/><use href="#xG" x="218.2" y="851.4"/><use href="#xG" x="215.3" y="850.6"/><use href="#xG" x="212.4" y="849.9"/><use href="#xG" x="209.5" y="849.3"/><use href="#xG" x="206.5" y="848.7"/><use href="#xG" x="203.6" y="848.2"/><use href="#xG" x="200.6" y="847.8"/><use href="#xG" x="197.6" y="847.4"/><use href="#xG" x="194.6" y="847.0"/><use href="#xG" x="191.7" y="846.8"/><use href="#xG" x="188.7" y="846.6"/><use href="#xG" x="185.7" y="846.4"/><use href="#xG" x="182.7" y="846.3"/><use href="#xG" x="179.7" y="846.3"/><use href="#xG" x="176.7" y="846.3"/><use href="#xG" x="173.7" y="846.4"/><use href="#xG" x="170.7" y="846.6"/><use href="#xG" x="167.7" y="846.8"/><use href="#xG" x="164.7" y="847.1"/><use href="#xG" x="161.7" y="847.5"/><use href="#xG" x="158.7" y="847.9"/><use href="#xG" x="155.8" y="848.3"/><use href="#xG" x="152.8" y="848.9"/><use href="#xG" x="152.0" y="849.0"/>
<use href="#xG" x="224.0" y="853.0"/><use href="#xG" x="221.2" y="851.9"/><use href="#xG" x="218.4" y="850.8"/><use href="#xG" x="215.6" y="849.9"/><use href="#xG" x="212.7" y="848.9"/><use href="#xG" x="209.8" y="848.1"/><use href="#xG" x="207.0" y="847.2"/><use href="#xG" x="204.0" y="846.5"/><use href="#xG" x="201.1" y="845.8"/><use href="#xG" x="198.2" y="845.2"/><use href="#xG" x="195.2" y="844.7"/><use href="#xG" x="192.3" y="844.2"/><use href="#xG" x="189.3" y="843.8"/><use href="#xG" x="186.3" y="843.5"/><use href="#xG" x="183.3" y="843.2"/><use href="#xG" x="180.3" y="843.0"/><use href="#xG" x="177.3" y="842.9"/><use href="#xG" x="174.3" y="842.9"/><use href="#xG" x="171.3" y="842.9"/><use href="#xG" x="168.3" y="843.0"/><use href="#xG" x="165.4" y="843.2"/><use href="#xG" x="162.4" y="843.5"/><use href="#xG" x="159.4" y="843.8"/><use href="#xG" x="158.0" y="844.0"/>
<use href="#xG" x="224.0" y="853.0"/><use href="#xG" x="221.3" y="851.7"/><use href="#xG" x="218.6" y="850.3"/><use href="#xG" x="215.9" y="849.1"/><use href="#xG" x="213.1" y="847.9"/><use href="#xG" x="210.3" y="846.8"/><use href="#xG" x="207.5" y="845.8"/><use href="#xG" x="204.7" y="844.8"/><use href="#xG" x="201.8" y="843.9"/><use href="#xG" x="198.9" y="843.1"/><use href="#xG" x="196.0" y="842.4"/><use href="#xG" x="193.1" y="841.7"/><use href="#xG" x="190.2" y="841.2"/><use href="#xG" x="187.2" y="840.7"/><use href="#xG" x="184.2" y="840.3"/><use href="#xG" x="181.2" y="840.0"/><use href="#xG" x="178.2" y="839.8"/><use href="#xG" x="175.2" y="839.7"/><use href="#xG" x="172.2" y="839.7"/><use href="#xG" x="169.2" y="839.7"/><use href="#xG" x="166.3" y="839.9"/><use href="#xG" x="165.0" y="840.0"/>
<use href="#xG" x="224.0" y="853.0"/><use href="#xG" x="221.6" y="851.2"/><use href="#xG" x="219.2" y="849.4"/><use href="#xG" x="216.8" y="847.6"/><use href="#xG" x="214.3" y="846.0"/><use href="#xG" x="211.7" y="844.4"/><use href="#xG" x="209.1" y="842.9"/><use href="#xG" x="206.5" y="841.5"/><use href="#xG" x="203.8" y="840.2"/><use href="#xG" x="201.0" y="839.0"/><use href="#xG" x="198.2" y="837.9"/><use href="#xG" x="195.4" y="837.0"/><use href="#xG" x="192.5" y="836.1"/><use href="#xG" x="189.6" y="835.4"/><use href="#xG" x="186.6" y="834.8"/><use href="#xG" x="183.7" y="834.4"/><use href="#xG" x="180.7" y="834.1"/><use href="#xG" x="178.0" y="834.0"/>
<use href="#xG" x="224.0" y="853.0"/><use href="#xG" x="222.0" y="850.8"/><use href="#xG" x="220.0" y="848.5"/><use href="#xG" x="217.9" y="846.4"/><use href="#xG" x="215.7" y="844.3"/><use href="#xG" x="213.5" y="842.4"/><use href="#xG" x="211.1" y="840.5"/><use href="#xG" x="208.7" y="838.7"/><use href="#xG" x="206.2" y="837.0"/><use href="#xG" x="203.6" y="835.5"/><use href="#xG" x="200.9" y="834.2"/><use href="#xG" x="198.2" y="833.0"/><use href="#xG" x="195.3" y="832.1"/><use href="#xG" x="192.4" y="831.4"/><use href="#xG" x="190.0" y="831.0"/>
<use href="#xB" x="224.0" y="853.0"/><use href="#xB" x="220.8" y="853.5"/><use href="#xB" x="217.7" y="854.1"/><use href="#xB" x="214.6" y="854.7"/><use href="#xB" x="211.4" y="855.3"/><use href="#xB" x="208.3" y="856.0"/><use href="#xB" x="205.2" y="856.8"/><use href="#xB" x="202.1" y="857.6"/><use href="#xB" x="199.0" y="858.4"/><use href="#xB" x="195.9" y="859.3"/><use href="#xB" x="192.9" y="860.2"/><use href="#xB" x="189.8" y="861.2"/><use href="#xB" x="186.8" y="862.2"/><use href="#xB" x="183.8" y="863.3"/><use href="#xB" x="180.8" y="864.4"/><use href="#xB" x="177.8" y="865.5"/><use href="#xB" x="174.8" y="866.7"/><use href="#xB" x="171.8" y="867.9"/><use href="#xB" x="168.9" y="869.2"/><use href="#xB" x="166.0" y="870.5"/><use href="#xB" x="163.1" y="871.8"/><use href="#xB" x="160.2" y="873.2"/><use href="#xB" x="157.3" y="874.6"/><use href="#xB" x="154.4" y="876.0"/><use href="#xB" x="151.6" y="877.5"/><use href="#xB" x="148.8" y="879.0"/><use href="#xB" x="145.9" y="880.5"/><use href="#xB" x="145.0" y="881.0"/>
<use href="#xB" x="224.0" y="853.0"/><use href="#xB" x="220.8" y="853.3"/><use href="#xB" x="217.6" y="853.6"/><use href="#xB" x="214.5" y="854.0"/><use href="#xB" x="211.3" y="854.5"/><use href="#xB" x="208.1" y="855.0"/><use href="#xB" x="205.0" y="855.5"/><use href="#xB" x="201.8" y="856.1"/><use href="#xB" x="198.7" y="856.8"/><use href="#xB" x="195.6" y="857.5"/><use href="#xB" x="192.5" y="858.2"/><use href="#xB" x="189.4" y="859.1"/><use href="#xB" x="186.3" y="859.9"/><use href="#xB" x="183.2" y="860.8"/><use href="#xB" x="180.2" y="861.8"/><use href="#xB" x="177.1" y="862.8"/><use href="#xB" x="174.1" y="863.8"/><use href="#xB" x="171.1" y="865.0"/><use href="#xB" x="168.1" y="866.1"/><use href="#xB" x="165.1" y="867.3"/><use href="#xB" x="162.2" y="868.5"/><use href="#xB" x="159.2" y="869.7"/><use href="#xB" x="156.3" y="871.1"/><use href="#xB" x="153.4" y="872.4"/><use href="#xB" x="150.5" y="873.8"/><use href="#xB" x="148.0" y="875.0"/>
<use href="#xB" x="224.0" y="853.0"/><use href="#xB" x="220.8" y="853.1"/><use href="#xB" x="217.6" y="853.1"/><use href="#xB" x="214.4" y="853.3"/><use href="#xB" x="211.2" y="853.5"/><use href="#xB" x="208.0" y="853.8"/><use href="#xB" x="204.8" y="854.1"/><use href="#xB" x="201.7" y="854.5"/><use href="#xB" x="198.5" y="854.9"/><use href="#xB" x="195.3" y="855.4"/><use href="#xB" x="192.2" y="856.0"/><use href="#xB" x="189.0" y="856.6"/><use href="#xB" x="185.9" y="857.3"/><use href="#xB" x="182.8" y="858.0"/><use href="#xB" x="179.7" y="858.8"/><use href="#xB" x="176.6" y="859.6"/><use href="#xB" x="173.5" y="860.5"/><use href="#xB" x="170.5" y="861.4"/><use href="#xB" x="167.4" y="862.4"/><use href="#xB" x="164.4" y="863.4"/><use href="#xB" x="161.4" y="864.5"/><use href="#xB" x="158.4" y="865.6"/><use href="#xB" x="155.4" y="866.8"/><use href="#xB" x="152.4" y="868.0"/><use href="#xB" x="150.0" y="869.0"/>
<use href="#xB" x="224.0" y="853.0"/><use href="#xB" x="220.8" y="852.8"/><use href="#xB" x="217.6" y="852.6"/><use href="#xB" x="214.4" y="852.5"/><use href="#xB" x="211.2" y="852.5"/><use href="#xB" x="208.0" y="852.5"/><use href="#xB" x="204.8" y="852.6"/><use href="#xB" x="201.6" y="852.7"/><use href="#xB" x="198.4" y="853.0"/><use href="#xB" x="195.2" y="853.2"/><use href="#xB" x="192.1" y="853.6"/><use href="#xB" x="188.9" y="854.0"/><use href="#xB" x="185.7" y="854.5"/><use href="#xB" x="182.6" y="855.1"/><use href="#xB" x="179.4" y="855.7"/><use href="#xB" x="176.3" y="856.4"/><use href="#xB" x="173.2" y="857.1"/><use href="#xB" x="170.1" y="857.9"/><use href="#xB" x="167.0" y="858.7"/><use href="#xB" x="163.9" y="859.7"/><use href="#xB" x="160.9" y="860.6"/><use href="#xB" x="157.9" y="861.6"/><use href="#xB" x="154.8" y="862.7"/><use href="#xB" x="154.0" y="863.0"/>
<use href="#xB" x="224.0" y="853.0"/><use href="#xB" x="220.8" y="852.5"/><use href="#xB" x="217.7" y="852.1"/><use href="#xB" x="214.5" y="851.8"/><use href="#xB" x="211.3" y="851.5"/><use href="#xB" x="208.1" y="851.3"/><use href="#xB" x="204.9" y="851.2"/><use href="#xB" x="201.7" y="851.1"/><use href="#xB" x="198.5" y="851.2"/><use href="#xB" x="195.3" y="851.3"/><use href="#xB" x="192.1" y="851.4"/><use href="#xB" x="188.9" y="851.7"/><use href="#xB" x="185.7" y="852.0"/><use href="#xB" x="182.6" y="852.4"/><use href="#xB" x="179.4" y="852.9"/><use href="#xB" x="176.2" y="853.4"/><use href="#xB" x="173.1" y="854.1"/><use href="#xB" x="170.0" y="854.7"/><use href="#xB" x="166.9" y="855.5"/><use href="#xB" x="163.8" y="856.3"/><use href="#xB" x="160.7" y="857.2"/><use href="#xB" x="158.0" y="858.0"/>
<use href="#xB" x="224.0" y="853.0"/><use href="#xB" x="220.9" y="852.2"/><use href="#xB" x="217.8" y="851.5"/><use href="#xB" x="214.6" y="850.9"/><use href="#xB" x="211.5" y="850.4"/><use href="#xB" x="208.3" y="849.9"/><use href="#xB" x="205.1" y="849.6"/><use href="#xB" x="201.9" y="849.3"/><use href="#xB" x="198.7" y="849.1"/><use href="#xB" x="195.5" y="849.0"/><use href="#xB" x="192.3" y="849.0"/><use href="#xB" x="189.2" y="849.1"/><use href="#xB" x="186.0" y="849.3"/><use href="#xB" x="182.8" y="849.6"/><use href="#xB" x="179.6" y="849.9"/><use href="#xB" x="176.4" y="850.4"/><use href="#xB" x="173.3" y="850.9"/><use href="#xB" x="170.1" y="851.6"/><use href="#xB" x="167.0" y="852.3"/><use href="#xB" x="164.0" y="853.0"/>
<use href="#xB" x="224.0" y="853.0"/><use href="#xB" x="221.0" y="851.9"/><use href="#xB" x="218.0" y="850.9"/><use href="#xB" x="214.9" y="849.9"/><use href="#xB" x="211.8" y="849.1"/><use href="#xB" x="208.7" y="848.4"/><use href="#xB" x="205.6" y="847.7"/><use href="#xB" x="202.4" y="847.2"/><use href="#xB" x="199.2" y="846.8"/><use href="#xB" x="196.1" y="846.4"/><use href="#xB" x="192.9" y="846.2"/><use href="#xB" x="189.7" y="846.1"/><use href="#xB" x="186.5" y="846.2"/><use href="#xB" x="183.3" y="846.3"/><use href="#xB" x="180.1" y="846.5"/><use href="#xB" x="176.9" y="846.9"/><use href="#xB" x="173.7" y="847.3"/><use href="#xB" x="170.6" y="847.9"/><use href="#xB" x="170.0" y="848.0"/>
<use href="#xB" x="224.0" y="853.0"/><use href="#xB" x="221.2" y="851.5"/><use href="#xB" x="218.3" y="850.2"/><use href="#xB" x="215.3" y="848.9"/><use href="#xB" x="212.4" y="847.7"/><use href="#xB" x="209.3" y="846.7"/><use href="#xB" x="206.3" y="845.8"/><use href="#xB" x="203.2" y="845.0"/><use href="#xB" x="200.0" y="844.3"/><use href="#xB" x="196.9" y="843.8"/><use href="#xB" x="193.7" y="843.5"/><use href="#xB" x="190.5" y="843.3"/><use href="#xB" x="187.3" y="843.3"/><use href="#xB" x="184.1" y="843.4"/><use href="#xB" x="180.9" y="843.6"/><use href="#xB" x="178.0" y="844.0"/>
<use href="#xB" x="224.0" y="853.0"/><use href="#xB" x="221.4" y="851.1"/><use href="#xB" x="218.7" y="849.4"/><use href="#xB" x="216.0" y="847.7"/><use href="#xB" x="213.2" y="846.2"/><use href="#xB" x="210.3" y="844.8"/><use href="#xB" x="207.4" y="843.5"/><use href="#xB" x="204.3" y="842.5"/><use href="#xB" x="201.3" y="841.5"/><use href="#xB" x="198.2" y="840.8"/><use href="#xB" x="195.0" y="840.3"/><use href="#xB" x="191.8" y="840.0"/><use href="#xB" x="188.6" y="839.9"/><use href="#xB" x="185.4" y="840.0"/><use href="#xB" x="185.0" y="840.0"/>
<use href="#xG" x="227.0" y="856.0"/><use href="#xG" x="224.8" y="859.6"/><use href="#xG" x="222.5" y="863.1"/><use href="#xG" x="220.3" y="866.7"/><use href="#xG" x="218.0" y="870.2"/><use href="#xG" x="215.8" y="873.8"/><use href="#xG" x="213.6" y="877.3"/><use href="#xG" x="211.3" y="880.9"/><use href="#xG" x="209.1" y="884.4"/><use href="#xG" x="206.8" y="888.0"/><use href="#xG" x="204.6" y="891.5"/><use href="#xG" x="202.4" y="895.1"/><use href="#xG" x="200.1" y="898.6"/><use href="#xG" x="197.9" y="902.2"/><use href="#xG" x="195.6" y="905.7"/><use href="#xG" x="193.4" y="909.3"/><use href="#xG" x="191.1" y="912.8"/><use href="#xG" x="188.9" y="916.4"/><use href="#xG" x="186.7" y="919.9"/><use href="#xG" x="186.0" y="921.0"/><use href="#xG" x="227.0" y="856.0"/><use href="#xG" x="224.7" y="859.5"/><use href="#xG" x="222.4" y="863.0"/><use href="#xG" x="220.1" y="866.5"/><use href="#xG" x="217.7" y="870.0"/><use href="#xG" x="215.4" y="873.5"/><use href="#xG" x="213.1" y="877.0"/><use href="#xG" x="210.8" y="880.5"/><use href="#xG" x="208.5" y="884.0"/><use href="#xG" x="206.2" y="887.5"/><use href="#xG" x="203.8" y="891.0"/><use href="#xG" x="201.5" y="894.5"/><use href="#xG" x="199.2" y="898.1"/><use href="#xG" x="196.9" y="901.6"/><use href="#xG" x="194.6" y="905.1"/><use href="#xG" x="192.3" y="908.6"/><use href="#xG" x="190.0" y="912.0"/><use href="#xG" x="227.0" y="856.0"/><use href="#xG" x="225.3" y="859.8"/><use href="#xG" x="223.5" y="863.6"/><use href="#xG" x="221.8" y="867.5"/><use href="#xG" x="220.0" y="871.3"/><use href="#xG" x="218.3" y="875.1"/><use href="#xG" x="216.5" y="878.9"/><use href="#xG" x="214.8" y="882.7"/><use href="#xG" x="213.0" y="886.6"/><use href="#xG" x="211.3" y="890.4"/><use href="#xG" x="209.5" y="894.2"/><use href="#xG" x="207.8" y="898.0"/><use href="#xG" x="206.0" y="901.8"/><use href="#xG" x="204.3" y="905.6"/><use href="#xG" x="202.5" y="909.5"/><use href="#xG" x="200.8" y="913.3"/><use href="#xG" x="200.0" y="915.0"/><use href="#xG" x="227.0" y="856.0"/><use href="#xG" x="226.1" y="860.1"/><use href="#xG" x="225.3" y="864.2"/><use href="#xG" x="224.4" y="868.3"/><use href="#xG" x="223.5" y="872.4"/><use href="#xG" x="222.6" y="876.5"/><use href="#xG" x="221.8" y="880.7"/><use href="#xG" x="220.9" y="884.8"/><use href="#xG" x="220.0" y="888.9"/><use href="#xG" x="219.2" y="893.0"/><use href="#xG" x="218.3" y="897.1"/><use href="#xG" x="217.4" y="901.2"/><use href="#xG" x="216.5" y="905.3"/><use href="#xG" x="215.7" y="909.4"/><use href="#xG" x="214.8" y="913.5"/><use href="#xG" x="213.9" y="917.6"/><use href="#xG" x="213.1" y="921.7"/><use href="#xG" x="213.0" y="922.0"/><use href="#xG" x="227.0" y="856.0"/><use href="#xG" x="226.6" y="860.2"/><use href="#xG" x="226.2" y="864.4"/><use href="#xG" x="225.9" y="868.5"/><use href="#xG" x="225.5" y="872.7"/><use href="#xG" x="225.1" y="876.9"/><use href="#xG" x="224.7" y="881.1"/><use href="#xG" x="224.3" y="885.3"/><use href="#xG" x="224.0" y="889.5"/><use href="#xG" x="223.6" y="893.6"/><use href="#xG" x="223.2" y="897.8"/><use href="#xG" x="222.8" y="902.0"/><use href="#xG" x="222.4" y="906.2"/><use href="#xG" x="222.1" y="910.4"/><use href="#xG" x="222.0" y="911.0"/><use href="#xG" x="227.0" y="856.0"/><use href="#xG" x="225.5" y="859.9"/><use href="#xG" x="224.0" y="863.8"/><use href="#xG" x="222.4" y="867.7"/><use href="#xG" x="220.9" y="871.7"/><use href="#xG" x="219.4" y="875.6"/><use href="#xG" x="217.9" y="879.5"/><use href="#xG" x="216.4" y="883.4"/><use href="#xG" x="214.9" y="887.3"/><use href="#xG" x="213.3" y="891.2"/><use href="#xG" x="211.8" y="895.2"/><use href="#xG" x="210.3" y="899.1"/><use href="#xG" x="208.8" y="903.0"/><use href="#xG" x="208.0" y="905.0"/>
<use href="#xB" x="227.0" y="856.0"/><use href="#xB" x="223.7" y="859.3"/><use href="#xB" x="220.5" y="862.5"/><use href="#xB" x="217.2" y="865.8"/><use href="#xB" x="214.0" y="869.0"/><use href="#xB" x="210.7" y="872.3"/><use href="#xB" x="207.5" y="875.5"/><use href="#xB" x="204.2" y="878.8"/><use href="#xB" x="201.0" y="882.0"/><use href="#xB" x="197.7" y="885.3"/><use href="#xB" x="194.5" y="888.5"/><use href="#xB" x="191.2" y="891.8"/><use href="#xB" x="188.0" y="895.0"/><use href="#xB" x="184.7" y="898.3"/><use href="#xB" x="181.5" y="901.5"/><use href="#xB" x="180.0" y="903.0"/><use href="#xB" x="227.0" y="856.0"/><use href="#xB" x="223.4" y="858.9"/><use href="#xB" x="219.9" y="861.8"/><use href="#xB" x="216.3" y="864.7"/><use href="#xB" x="212.7" y="867.6"/><use href="#xB" x="209.2" y="870.5"/><use href="#xB" x="205.6" y="873.4"/><use href="#xB" x="202.0" y="876.3"/><use href="#xB" x="198.5" y="879.2"/><use href="#xB" x="194.9" y="882.1"/><use href="#xB" x="191.3" y="885.0"/><use href="#xB" x="187.8" y="887.9"/><use href="#xB" x="184.2" y="890.8"/><use href="#xB" x="184.0" y="891.0"/><use href="#xB" x="227.0" y="856.0"/><use href="#xB" x="225.5" y="860.3"/><use href="#xB" x="223.9" y="864.7"/><use href="#xB" x="222.4" y="869.0"/><use href="#xB" x="220.8" y="873.3"/><use href="#xB" x="219.3" y="877.7"/><use href="#xB" x="217.8" y="882.0"/><use href="#xB" x="216.2" y="886.3"/><use href="#xB" x="214.7" y="890.7"/><use href="#xB" x="213.1" y="895.0"/><use href="#xB" x="211.6" y="899.3"/><use href="#xB" x="210.1" y="903.7"/><use href="#xB" x="208.5" y="908.0"/><use href="#xB" x="207.0" y="912.3"/><use href="#xB" x="205.4" y="916.7"/><use href="#xB" x="203.9" y="921.0"/><use href="#xB" x="202.4" y="925.4"/><use href="#xB" x="200.8" y="929.7"/><use href="#xB" x="200.0" y="932.0"/><use href="#xB" x="227.0" y="856.0"/><use href="#xB" x="225.5" y="860.3"/><use href="#xB" x="224.0" y="864.7"/><use href="#xB" x="222.5" y="869.0"/><use href="#xB" x="221.0" y="873.4"/><use href="#xB" x="219.5" y="877.7"/><use href="#xB" x="218.0" y="882.1"/><use href="#xB" x="216.4" y="886.4"/><use href="#xB" x="214.9" y="890.8"/><use href="#xB" x="213.4" y="895.1"/><use href="#xB" x="211.9" y="899.5"/><use href="#xB" x="210.4" y="903.8"/><use href="#xB" x="210.0" y="905.0"/><use href="#xB" x="227.0" y="856.0"/><use href="#xB" x="226.2" y="860.5"/><use href="#xB" x="225.4" y="865.1"/><use href="#xB" x="224.6" y="869.6"/><use href="#xB" x="223.8" y="874.1"/><use href="#xB" x="223.1" y="878.7"/><use href="#xB" x="222.3" y="883.2"/><use href="#xB" x="221.5" y="887.7"/><use href="#xB" x="220.7" y="892.3"/><use href="#xB" x="219.9" y="896.8"/><use href="#xB" x="219.1" y="901.3"/><use href="#xB" x="218.3" y="905.9"/><use href="#xB" x="217.5" y="910.4"/><use href="#xB" x="216.8" y="914.9"/><use href="#xB" x="216.0" y="919.4"/><use href="#xB" x="215.2" y="924.0"/><use href="#xB" x="215.0" y="925.0"/><use href="#xB" x="227.0" y="856.0"/><use href="#xB" x="224.1" y="859.6"/><use href="#xB" x="221.3" y="863.2"/><use href="#xB" x="218.4" y="866.8"/><use href="#xB" x="215.5" y="870.4"/><use href="#xB" x="212.6" y="874.0"/><use href="#xB" x="209.8" y="877.6"/><use href="#xB" x="206.9" y="881.1"/><use href="#xB" x="204.0" y="884.7"/><use href="#xB" x="201.1" y="888.3"/><use href="#xB" x="198.3" y="891.9"/><use href="#xB" x="195.4" y="895.5"/><use href="#xB" x="195.0" y="896.0"/>
<polygon points="216.0,850.0 228.0,848.0 231.0,860.0 224.0,868.0 218.0,862.0" fill="url(#pBd)"/>
</g>
<g opacity="0.6">
<polygon points="233.0,826.0 262.0,822.0 282.0,826.0 282.0,860.0 279.0,885.0 270.0,870.0 255.0,870.0 240.0,862.0 233.0,850.0" fill="url(#pLd)"/>
<polygon points="236.0,828.0 262.0,824.0 280.0,828.0 280.0,850.0 262.0,852.0 245.0,848.0" fill="url(#pLm)"/>
<polygon points="245.0,865.0 265.0,862.0 281.0,868.0 281.0,892.0 268.0,880.0 250.0,880.0" fill="url(#pLs)"/>
<polygon points="240.0,830.0 262.0,828.0 270.0,845.0 255.0,860.0 245.0,858.0" fill="url(#pOs)"/>
<use href="#xL" x="278.0" y="930.0"/><use href="#xL" x="249.0" y="925.0"/><use href="#xL" x="235.7" y="899.0"/><use href="#xL" x="247.8" y="925.5"/><use href="#xL" x="262.0" y="900.0"/><use href="#xL" x="270.0" y="910.0"/><use href="#xL" x="255.0" y="905.0"/><use href="#xL" x="275.0" y="895.0"/><use href="#xL" x="281.0" y="915.0"/><use href="#xL" x="240.0" y="904.0"/>
<use href="#xO" x="108.0" y="778.0"/><use href="#xO" x="111.0" y="939.0"/><use href="#xO" x="112.0" y="848.0"/><use href="#xO" x="213.4" y="920.0"/><use href="#xO" x="244.0" y="897.0"/><use href="#xO" x="241.0" y="907.5"/><use href="#xO" x="248.0" y="872.0"/><use href="#xO" x="252.0" y="880.0"/><use href="#xO" x="258.0" y="862.0"/><use href="#xO" x="238.0" y="876.0"/><use href="#xO" x="262.0" y="876.0"/>
<use href="#xG" x="107.0" y="848.0"/><use href="#xG" x="124.0" y="899.0"/><use href="#xG" x="182.5" y="942.7"/><use href="#xG" x="218.6" y="944.4"/><use href="#xG" x="186.0" y="921.0"/><use href="#xG" x="215.0" y="910.0"/>
<use href="#xB" x="144.0" y="901.4"/><use href="#xB" x="151.5" y="912.6"/><use href="#xB" x="156.7" y="896.3"/><use href="#xB" x="160.0" y="887.7"/><use href="#xB" x="177.3" y="930.7"/><use href="#xB" x="181.0" y="903.0"/><use href="#xB" x="184.0" y="891.0"/><use href="#xB" x="199.7" y="932.4"/><use href="#xB" x="192.0" y="958.0"/>
</g>
<use href="#xO" x="108.0" y="778.0"/><use href="#xO" x="109.4" y="780.2"/><use href="#xO" x="110.7" y="782.4"/><use href="#xO" x="112.1" y="784.6"/><use href="#xO" x="113.5" y="786.8"/><use href="#xO" x="115.3" y="788.6"/><use href="#xO" x="117.4" y="790.2"/><use href="#xO" x="119.5" y="791.7"/><use href="#xO" x="122.0" y="792.1"/><use href="#xO" x="124.6" y="792.3"/><use href="#xO" x="127.2" y="792.5"/><use href="#xO" x="129.8" y="792.7"/><use href="#xO" x="132.3" y="792.8"/><use href="#xO" x="134.9" y="793.0"/><use href="#xO" x="135.0" y="793.0"/>
<polygon points="125.0,792.6 150.0,793.2 229.0,793.2 303.8,795.2 303.8,799.7 296.8,799.7 281.0,807.6 269.0,805.6 249.0,800.5 209.0,799.0 150.0,797.0 125.0,795.0" fill="#ff6400"/>
<polygon points="249.0,800.0 268.0,800.0 268.0,802.5 249.0,802.0" fill="#009b48"/>
<polygon points="228.0,840.0 240.0,826.0 250.0,817.0 260.0,811.0 272.0,807.0 285.0,803.0 297.0,797.7 303.8,799.7 303.8,823.5 290.0,826.0 280.0,824.0 270.0,820.0 260.0,818.0 250.0,824.0 240.0,836.0 232.0,848.0 227.0,852.0" fill="#8080ff"/>
<polygon points="262.0,818.0 272.0,821.0 282.0,826.0 290.0,828.0 286.0,845.0 278.0,850.0 270.0,840.0" fill="url(#pLd)"/>
<polygon points="271.0,806.0 279.0,806.0 277.0,822.0 274.0,821.0" fill="#732a00"/>
<polygon points="296.0,808.0 303.8,808.0 303.8,813.0 296.0,813.0" fill="#732a00"/>
<polygon points="294.0,800.0 298.0,800.0 297.0,805.0 294.0,805.0" fill="#009b48"/>
<polygon points="298.0,815.0 303.8,815.0 303.8,823.0 299.0,822.0" fill="#009b48"/>
<polygon points="323.0,790.0 356.0,790.0 356.0,786.0 360.0,786.0 360.0,792.0 364.0,792.0 364.0,785.0 369.0,785.0 369.0,792.0 323.0,794.0" fill="#ff6400"/>
<polygon points="342.0,802.0 353.0,816.0 357.0,803.0" fill="#ff6400"/>
<polygon points="323.0,793.0 360.0,793.0 364.0,797.0 323.0,796.0" fill="#732a00"/>
<polygon points="323.0,796.5 356.0,794.5 367.0,790.0 373.0,792.0 384.0,793.0 384.0,799.0 367.0,802.0 356.0,803.5 323.0,800.0" fill="#8080ff"/>
<polygon points="338.0,800.0 356.0,802.0 356.0,803.5 338.0,801.5" fill="#009b48"/>
<polygon points="389.0,791.0 398.0,787.0 407.0,784.0 420.0,781.0 420.0,785.0 407.0,787.0 398.0,790.0" fill="#ff6400"/>
<polygon points="398.0,789.0 420.0,785.0 420.0,787.0 398.0,791.0" fill="#009b48"/>
<polygon points="389.0,793.0 396.0,787.5 410.0,785.0 420.0,784.0 420.0,791.0 407.0,793.5 400.0,797.5 395.0,800.5 390.0,799.5" fill="#8080ff"/>
<polygon points="406.0,795.5 420.0,795.0 420.0,799.0 406.0,799.0" fill="#732a00"/>
<polygon points="489.0,787.5 583.0,786.0 583.0,790.0 489.0,789.5" fill="#ff6400"/>
<polygon points="489.0,789.0 583.0,789.5 583.0,793.5 489.0,790.0" fill="#009b48"/>
<polygon points="489.0,789.5 583.0,793.0 583.0,798.5 489.0,791.0" fill="#732a00"/>
<polygon points="489.0,790.0 583.0,798.0 583.0,804.0 489.0,792.5" fill="#8080ff"/>
<polygon points="466.0,797.0 490.0,797.0 487.0,801.0 470.0,801.0" fill="#ff6400"/>
<polygon points="466.0,795.0 490.0,795.0 490.0,797.5 466.0,797.5" fill="#732a00"/>
<polygon points="466.0,791.0 478.0,787.5 489.0,788.5 491.0,791.0 491.0,796.0 478.0,797.0 466.0,795.5" fill="#8080ff"/>
<polygon points="902.0,815.6 918.0,807.6 934.0,801.7 950.0,801.7 960.0,811.6 966.0,829.5 970.0,851.4 970.0,869.3 954.0,879.2 934.0,877.2 914.0,875.2 902.0,867.3 896.0,851.4 896.0,835.5" fill="#8080ff" opacity="0.6"/>
<g opacity="0.65">
<polygon points="789.0,808.6 850.0,806.0 914.0,801.7 904.0,819.6 894.0,827.5 874.0,821.5 835.0,815.6 789.0,811.6" fill="#009b48" opacity="0.6"/>
<polygon points="789.0,808.6 850.0,806.0 914.0,801.7 904.0,819.6 894.0,827.5 874.0,821.5 835.0,815.6 789.0,811.6" fill="url(#pGd)"/>
<use href="#xG" x="856.0" y="818.0"/><use href="#xG" x="854.7" y="819.8"/><use href="#xG" x="853.5" y="821.6"/><use href="#xG" x="852.2" y="823.4"/><use href="#xG" x="851.0" y="825.2"/><use href="#xG" x="849.7" y="827.0"/><use href="#xG" x="848.6" y="828.9"/><use href="#xG" x="847.8" y="831.0"/><use href="#xG" x="847.0" y="833.0"/><use href="#xG" x="846.2" y="835.1"/><use href="#xG" x="845.4" y="837.1"/><use href="#xG" x="844.8" y="839.2"/><use href="#xG" x="844.3" y="841.4"/><use href="#xG" x="843.9" y="843.5"/><use href="#xG" x="843.5" y="845.7"/><use href="#xG" x="843.0" y="847.8"/><use href="#xG" x="842.8" y="850.0"/><use href="#xG" x="842.6" y="852.2"/><use href="#xG" x="842.4" y="854.4"/><use href="#xG" x="842.2" y="856.6"/><use href="#xG" x="842.0" y="858.8"/><use href="#xG" x="842.0" y="861.0"/><use href="#xG" x="842.0" y="863.2"/><use href="#xG" x="842.0" y="865.4"/><use href="#xG" x="842.0" y="867.6"/><use href="#xG" x="842.0" y="869.0"/>
<use href="#xG" x="853.0" y="818.0"/><use href="#xG" x="851.6" y="820.0"/><use href="#xG" x="850.2" y="821.9"/><use href="#xG" x="848.9" y="823.9"/><use href="#xG" x="847.5" y="825.9"/><use href="#xG" x="846.1" y="827.8"/><use href="#xG" x="845.2" y="830.0"/><use href="#xG" x="844.3" y="832.3"/><use href="#xG" x="843.4" y="834.5"/><use href="#xG" x="842.5" y="836.7"/><use href="#xG" x="841.8" y="839.0"/><use href="#xG" x="841.3" y="841.4"/><use href="#xG" x="840.9" y="843.7"/><use href="#xG" x="840.4" y="846.1"/><use href="#xG" x="840.0" y="848.4"/><use href="#xG" x="839.7" y="850.8"/><use href="#xG" x="839.5" y="853.2"/><use href="#xG" x="839.2" y="855.6"/><use href="#xG" x="839.0" y="858.0"/><use href="#xG" x="839.0" y="858.0"/>
<use href="#xG" x="859.0" y="818.0"/><use href="#xG" x="857.6" y="820.0"/><use href="#xG" x="856.2" y="821.9"/><use href="#xG" x="854.9" y="823.9"/><use href="#xG" x="853.5" y="825.9"/><use href="#xG" x="852.1" y="827.8"/><use href="#xG" x="851.2" y="830.0"/><use href="#xG" x="850.3" y="832.3"/><use href="#xG" x="849.4" y="834.5"/><use href="#xG" x="848.5" y="836.7"/><use href="#xG" x="847.8" y="839.0"/><use href="#xG" x="847.3" y="841.4"/><use href="#xG" x="846.9" y="843.7"/><use href="#xG" x="846.4" y="846.1"/><use href="#xG" x="845.9" y="848.4"/><use href="#xG" x="845.6" y="850.8"/><use href="#xG" x="845.4" y="853.2"/><use href="#xG" x="845.1" y="855.6"/><use href="#xG" x="845.0" y="856.0"/>
<use href="#xG" x="850.0" y="818.0"/><use href="#xG" x="848.4" y="820.1"/><use href="#xG" x="846.8" y="822.1"/><use href="#xG" x="845.2" y="824.2"/><use href="#xG" x="843.6" y="826.2"/><use href="#xG" x="842.4" y="828.5"/><use href="#xG" x="841.3" y="830.8"/><use href="#xG" x="840.2" y="833.2"/><use href="#xG" x="839.2" y="835.6"/><use href="#xG" x="838.5" y="838.1"/><use href="#xG" x="838.0" y="840.6"/><use href="#xG" x="837.4" y="843.2"/><use href="#xG" x="837.0" y="845.0"/>
<use href="#xG" x="805.0" y="819.0"/><use href="#xG" x="804.5" y="822.0"/><use href="#xG" x="804.0" y="824.9"/><use href="#xG" x="803.6" y="827.9"/><use href="#xG" x="803.2" y="830.9"/><use href="#xG" x="803.0" y="832.0"/>
<use href="#xO" x="803.0" y="813.6"/><use href="#xO" x="801.9" y="815.8"/><use href="#xO" x="800.7" y="818.1"/><use href="#xO" x="799.6" y="820.3"/><use href="#xO" x="798.5" y="822.5"/><use href="#xO" x="798.0" y="824.9"/><use href="#xO" x="798.0" y="827.4"/><use href="#xO" x="798.0" y="829.9"/><use href="#xO" x="798.0" y="831.5"/>
<polygon points="858.5,819.6 870.5,827.5 880.4,839.4 886.4,851.4 884.4,861.3 878.4,851.4 870.5,839.4 862.5,827.5" fill="url(#pOd)"/>
<use href="#xO" x="878.0" y="850.0"/><use href="#xO" x="879.1" y="853.8"/><use href="#xO" x="880.3" y="857.7"/><use href="#xO" x="881.2" y="861.6"/><use href="#xO" x="881.6" y="865.5"/><use href="#xO" x="882.0" y="869.5"/><use href="#xO" x="881.4" y="873.5"/><use href="#xO" x="881.0" y="876.0"/>
<polygon points="902.0,815.6 918.0,807.6 934.0,801.7 950.0,801.7 960.0,811.6 966.0,829.5 970.0,851.4 970.0,869.3 954.0,879.2 934.0,877.2 914.0,875.2 902.0,867.3 896.0,851.4 896.0,835.5" fill="url(#pLd)"/>
<polygon points="896.0,830.0 910.0,822.0 925.0,840.0 940.0,860.0 960.0,870.0 966.0,885.0 950.0,882.0 930.0,875.0 910.0,862.0 898.0,848.0" fill="url(#pGd)"/>
<polygon points="910.0,830.0 930.0,820.0 945.0,835.0 955.0,860.0 955.0,878.0 940.0,870.0 925.0,858.0 912.0,845.0" fill="url(#pBd)"/>
<polygon points="912.0,835.0 930.0,838.0 940.0,852.0 938.0,868.0 922.0,862.0" fill="url(#pOs)"/>
<polygon points="920.0,872.0 950.0,876.0 975.0,880.0 975.0,900.0 955.0,895.0 935.0,890.0" fill="url(#pLs)"/>
<use href="#xB" x="891.0" y="847.0"/><use href="#xB" x="890.8" y="849.6"/><use href="#xB" x="890.6" y="852.2"/><use href="#xB" x="890.4" y="854.8"/><use href="#xB" x="890.2" y="857.4"/><use href="#xB" x="890.0" y="860.0"/><use href="#xB" x="890.0" y="862.6"/><use href="#xB" x="890.0" y="865.2"/><use href="#xB" x="890.0" y="867.8"/><use href="#xB" x="890.0" y="870.4"/><use href="#xB" x="890.0" y="873.0"/><use href="#xB" x="890.0" y="875.6"/><use href="#xB" x="890.1" y="878.2"/><use href="#xB" x="890.1" y="880.8"/><use href="#xB" x="890.2" y="883.4"/><use href="#xB" x="890.2" y="886.0"/><use href="#xB" x="890.3" y="888.6"/><use href="#xB" x="890.4" y="891.2"/><use href="#xB" x="890.4" y="893.0"/>
<use href="#xB" x="893.0" y="847.0"/><use href="#xB" x="892.8" y="850.2"/><use href="#xB" x="892.5" y="853.4"/><use href="#xB" x="892.3" y="856.6"/><use href="#xB" x="892.0" y="859.8"/><use href="#xB" x="892.0" y="863.0"/><use href="#xB" x="892.0" y="866.2"/><use href="#xB" x="892.0" y="869.4"/><use href="#xB" x="892.0" y="872.6"/><use href="#xB" x="892.0" y="875.0"/>
<use href="#xB" x="950.0" y="815.0"/><use href="#xB" x="950.0" y="817.4"/><use href="#xB" x="950.0" y="819.8"/><use href="#xB" x="950.0" y="822.2"/><use href="#xB" x="950.0" y="824.6"/><use href="#xB" x="950.0" y="827.0"/><use href="#xB" x="950.0" y="829.4"/><use href="#xB" x="950.0" y="831.8"/><use href="#xB" x="950.0" y="834.2"/><use href="#xB" x="950.0" y="836.6"/><use href="#xB" x="950.0" y="839.0"/><use href="#xB" x="950.0" y="841.4"/><use href="#xB" x="950.0" y="843.8"/><use href="#xB" x="950.1" y="846.2"/><use href="#xB" x="950.2" y="848.6"/><use href="#xB" x="950.4" y="851.0"/><use href="#xB" x="950.6" y="853.4"/><use href="#xB" x="950.7" y="855.8"/><use href="#xB" x="950.9" y="858.2"/><use href="#xB" x="951.0" y="860.6"/><use href="#xB" x="951.2" y="863.0"/><use href="#xB" x="951.4" y="865.4"/><use href="#xB" x="951.5" y="867.7"/><use href="#xB" x="951.7" y="870.1"/><use href="#xB" x="951.8" y="872.5"/><use href="#xB" x="952.0" y="874.9"/><use href="#xB" x="952.2" y="877.3"/><use href="#xB" x="952.3" y="879.7"/><use href="#xB" x="952.5" y="882.1"/><use href="#xB" x="952.6" y="884.5"/><use href="#xB" x="952.8" y="886.9"/><use href="#xB" x="953.0" y="889.3"/><use href="#xB" x="953.0" y="891.7"/><use href="#xB" x="953.0" y="894.1"/><use href="#xB" x="953.0" y="896.5"/><use href="#xB" x="953.0" y="898.9"/><use href="#xB" x="953.0" y="901.3"/><use href="#xB" x="953.0" y="903.7"/><use href="#xB" x="953.0" y="905.0"/>
<use href="#xB" x="952.0" y="815.0"/><use href="#xB" x="952.2" y="818.0"/><use href="#xB" x="952.4" y="821.0"/><use href="#xB" x="952.6" y="824.0"/><use href="#xB" x="952.8" y="827.0"/><use href="#xB" x="953.0" y="830.0"/><use href="#xB" x="953.1" y="833.0"/><use href="#xB" x="953.3" y="836.0"/><use href="#xB" x="953.4" y="839.0"/><use href="#xB" x="953.6" y="842.0"/><use href="#xB" x="953.7" y="844.9"/><use href="#xB" x="953.9" y="847.9"/><use href="#xB" x="954.0" y="850.9"/><use href="#xB" x="954.2" y="853.9"/><use href="#xB" x="954.3" y="856.9"/><use href="#xB" x="954.5" y="859.9"/><use href="#xB" x="954.6" y="862.9"/><use href="#xB" x="954.8" y="865.9"/><use href="#xB" x="954.9" y="868.9"/><use href="#xB" x="955.0" y="870.0"/>
<use href="#xB" x="905.0" y="835.0"/><use href="#xB" x="904.8" y="838.5"/><use href="#xB" x="904.5" y="842.0"/><use href="#xB" x="904.3" y="845.5"/><use href="#xB" x="904.1" y="849.0"/><use href="#xB" x="904.0" y="852.5"/><use href="#xB" x="904.0" y="856.0"/><use href="#xB" x="904.0" y="859.5"/><use href="#xB" x="904.0" y="863.0"/><use href="#xB" x="904.1" y="866.5"/><use href="#xB" x="904.3" y="870.0"/><use href="#xB" x="904.6" y="873.4"/><use href="#xB" x="904.8" y="876.9"/><use href="#xB" x="905.0" y="880.0"/>
<polygon points="905.0,860.0 930.0,865.0 955.0,872.0 968.0,880.0 968.0,895.0 950.0,893.0 930.0,885.0 910.0,878.0" fill="url(#pGm)"/>
<polygon points="930.0,870.0 955.0,868.0 975.0,860.0 978.0,890.0 965.0,898.0 945.0,893.0" fill="url(#pLm)"/>
<polygon points="900.0,850.0 915.0,855.0 925.0,870.0 915.0,885.0 902.0,875.0" fill="url(#pOs)"/>
<use href="#xG" x="788.0" y="764.0"/><use href="#xG" x="788.0" y="819.0"/><use href="#xG" x="801.0" y="840.0"/><use href="#xG" x="799.0" y="898.0"/><use href="#xG" x="911.0" y="918.0"/><use href="#xG" x="923.0" y="925.0"/><use href="#xG" x="963.0" y="880.0"/><use href="#xG" x="965.0" y="895.0"/><use href="#xG" x="962.0" y="910.0"/><use href="#xG" x="905.0" y="893.0"/><use href="#xG" x="907.0" y="897.0"/>
<use href="#xO" x="797.0" y="939.0"/><use href="#xO" x="900.0" y="921.0"/><use href="#xO" x="881.0" y="876.0"/><use href="#xO" x="928.0" y="900.0"/><use href="#xO" x="927.0" y="905.0"/><use href="#xO" x="920.0" y="890.0"/><use href="#xO" x="914.0" y="875.0"/>
<use href="#xB" x="889.0" y="931.0"/><use href="#xB" x="925.0" y="918.0"/><use href="#xB" x="928.0" y="908.0"/><use href="#xB" x="920.0" y="905.0"/><use href="#xB" x="935.0" y="896.0"/><use href="#xB" x="940.0" y="905.0"/>
<use href="#xL" x="976.0" y="954.0"/><use href="#xL" x="977.0" y="959.0"/><use href="#xL" x="941.0" y="926.0"/><use href="#xL" x="963.0" y="903.0"/><use href="#xL" x="975.0" y="899.0"/><use href="#xL" x="936.0" y="915.0"/><use href="#xL" x="943.0" y="909.0"/><use href="#xL" x="905.0" y="886.0"/>
</g>
<use href="#xO" x="794.0" y="777.0"/><use href="#xO" x="795.5" y="779.4"/><use href="#xO" x="796.9" y="781.8"/><use href="#xO" x="798.4" y="784.1"/><use href="#xO" x="799.9" y="786.5"/><use href="#xO" x="802.1" y="788.2"/><use href="#xO" x="804.3" y="789.9"/><use href="#xO" x="806.6" y="791.6"/><use href="#xO" x="809.3" y="792.0"/><use href="#xO" x="812.1" y="792.2"/><use href="#xO" x="814.9" y="792.5"/><use href="#xO" x="817.7" y="792.8"/><use href="#xO" x="820.0" y="793.0"/>
<polygon points="815.0,792.7 834.7,793.2 914.0,792.2 988.8,795.2 988.8,799.7 974.0,799.7 964.0,807.6 954.0,803.6 948.0,799.7 914.0,797.7 854.6,795.7 815.0,795.0" fill="#ff6400"/>
<polygon points="789.0,804.5 948.0,796.7 948.0,798.5 789.0,806.3" fill="#ff6400"/>
<polygon points="789.0,806.3 948.0,797.7 948.0,800.7 789.0,808.6" fill="#732a00"/>
<polygon points="789.0,808.6 914.0,801.7 914.0,804.0 789.0,810.5" fill="#009b48"/>
<polygon points="948.0,795.7 948.0,801.7 924.0,809.6 910.0,819.6 898.0,831.5 894.0,843.4 891.0,843.4 892.0,831.5 902.0,817.6 918.0,805.6 934.0,799.7" fill="#732a00"/>
<polygon points="950.0,803.6 962.0,803.6 974.0,809.6 982.0,803.6 986.0,819.6 988.8,843.4 988.8,867.3 984.0,863.3 974.0,851.4 964.0,843.4 954.0,835.5 950.0,823.5" fill="#8080ff"/>
<polygon points="950.0,805.6 960.0,809.6 972.0,803.6 982.0,799.7 984.0,805.6 974.0,819.6 966.0,831.5 958.0,827.5 954.0,819.6" fill="#732a00"/>
<polygon points="980.0,805.6 986.0,819.6 988.8,839.4 988.8,859.3 986.8,859.3 983.8,839.4 980.8,823.5" fill="#732a00"/>
<polygon points="974.0,797.0 982.0,795.7 982.0,801.0 976.0,805.0" fill="#009b48"/>
<polygon points="1009.0,791.0 1041.0,791.0 1041.0,786.7 1046.0,786.7 1046.0,790.0 1050.0,790.0 1050.0,784.4 1054.0,784.4 1054.0,790.0 1009.0,793.0" fill="#ff6400"/>
<polygon points="1031.0,804.4 1039.0,815.6 1043.0,804.4" fill="#ff6400"/>
<polygon points="1009.0,797.8 1040.0,803.3 1040.0,806.7 1009.0,801.1" fill="#732a00"/>
<polygon points="1009.0,792.2 1040.0,793.3 1046.7,788.9 1053.3,786.7 1060.0,791.1 1071.0,791.1 1071.0,798.9 1062.0,802.2 1049.0,802.2 1040.0,803.3 1022.0,800.0 1009.0,797.8" fill="#8080ff"/>
<polygon points="1064.0,789.0 1071.0,789.0 1071.0,793.0 1064.0,793.0" fill="#009b48"/>
<polygon points="1075.6,788.0 1089.0,784.5 1106.7,780.5 1106.7,783.0 1089.0,786.5 1075.6,790.0" fill="#ff6400"/>
<polygon points="1089.0,786.0 1106.7,782.5 1106.7,784.5 1089.0,787.5" fill="#732a00"/>
<polygon points="1075.6,791.0 1088.9,786.7 1106.7,784.4 1106.7,788.9 1093.3,791.1 1088.9,797.8 1084.4,805.6 1077.8,802.2" fill="#8080ff"/>
<polygon points="1152.0,790.0 1169.0,786.0 1169.0,788.0 1152.0,792.0" fill="#009b48"/>
<polygon points="1152.2,791.1 1168.9,786.7 1175.6,788.9 1175.6,797.8 1164.4,798.9 1152.2,800.0" fill="#8080ff"/>
<polygon points="1152.0,798.0 1170.0,797.0 1164.0,801.0 1152.0,801.0" fill="#ff6400"/>
<polygon points="1175.0,786.5 1270.0,786.5 1270.0,788.5 1175.0,789.0" fill="#ff6400"/>
<polygon points="1190.0,793.5 1267.0,795.0 1267.0,799.5 1200.0,797.0" fill="#732a00"/>
<polygon points="1175.6,788.9 1271.1,787.8 1271.1,793.3 1200.0,795.6 1175.6,797.8" fill="#8080ff"/>
<polygon points="1255.0,792.0 1271.0,791.5 1271.0,794.0 1255.0,794.0" fill="#009b48"/>
<path d="M102.40 15.90H663.55V467.80H102.40Z" fill="none" stroke="#000" stroke-width="3.3" stroke-linejoin="round"/>
<path d="M102.40 467.80v8.5M139.81 467.80v4.0M177.22 467.80v8.5M214.63 467.80v4.0M252.04 467.80v8.5M289.45 467.80v4.0M326.86 467.80v8.5M364.27 467.80v4.0M401.68 467.80v8.5M439.09 467.80v4.0M476.50 467.80v8.5M513.91 467.80v4.0M551.32 467.80v8.5M588.73 467.80v4.0M626.14 467.80v8.5M663.55 467.80v4.0M102.40 467.80h-8.9M102.40 433.79h-4.6M102.40 413.90h-4.6M102.40 399.78h-4.6M102.40 388.83h-4.6M102.40 379.89h-4.6M102.40 372.33h-4.6M102.40 365.77h-4.6M102.40 359.99h-4.6M102.40 354.82h-8.9M102.40 320.82h-4.6M102.40 300.92h-4.6M102.40 286.81h-4.6M102.40 275.86h-4.6M102.40 266.91h-4.6M102.40 259.35h-4.6M102.40 252.80h-4.6M102.40 247.02h-4.6M102.40 241.85h-8.9M102.40 207.84h-4.6M102.40 187.95h-4.6M102.40 173.83h-4.6M102.40 162.88h-4.6M102.40 153.94h-4.6M102.40 146.38h-4.6M102.40 139.82h-4.6M102.40 134.04h-4.6M102.40 128.88h-8.9M102.40 94.87h-4.6M102.40 74.97h-4.6M102.40 60.86h-4.6M102.40 49.91h-4.6M102.40 40.96h-4.6M102.40 33.40h-4.6M102.40 26.85h-4.6M102.40 21.07h-4.6M102.40 15.90h-8.9" stroke="#000" stroke-width="3.1" stroke-linecap="round"/>
<text x="102.40" y="504.20" font-size="28" text-anchor="middle">0</text>
<text x="177.22" y="504.20" font-size="28" text-anchor="middle">2</text>
<text x="252.04" y="504.20" font-size="28" text-anchor="middle">4</text>
<text x="326.86" y="504.20" font-size="28" text-anchor="middle">6</text>
<text x="401.68" y="504.20" font-size="28" text-anchor="middle">8</text>
<text x="476.50" y="504.20" font-size="28" text-anchor="middle">10</text>
<text x="551.32" y="504.20" font-size="28" text-anchor="middle">12</text>
<text x="626.14" y="504.20" font-size="28" text-anchor="middle">14</text>
<text x="86.50" y="477.40" font-size="28" text-anchor="end">10<tspan font-size="17" dy="-13.3">-3</tspan></text>
<text x="86.50" y="364.43" font-size="28" text-anchor="end">10<tspan font-size="17" dy="-13.3">-2</tspan></text>
<text x="86.50" y="251.45" font-size="28" text-anchor="end">10<tspan font-size="17" dy="-13.3">-1</tspan></text>
<text x="86.50" y="138.47" font-size="28" text-anchor="end">10<tspan font-size="17" dy="-13.3">0</tspan></text>
<text x="86.50" y="25.50" font-size="28" text-anchor="end">10<tspan font-size="17" dy="-13.3">1</tspan></text>
<path d="M786.40 18.00H1347.55V470.00H786.40Z" fill="none" stroke="#000" stroke-width="3.3" stroke-linejoin="round"/>
<path d="M786.40 470.00v8.5M823.81 470.00v4.0M861.22 470.00v8.5M898.63 470.00v4.0M936.04 470.00v8.5M973.45 470.00v4.0M1010.86 470.00v8.5M1048.27 470.00v4.0M1085.68 470.00v8.5M1123.09 470.00v4.0M1160.50 470.00v8.5M1197.91 470.00v4.0M1235.32 470.00v8.5M1272.73 470.00v4.0M1310.14 470.00v8.5M1347.55 470.00v4.0M786.40 470.00h-8.9M786.40 435.98h-4.6M786.40 416.09h-4.6M786.40 401.97h-4.6M786.40 391.02h-4.6M786.40 382.07h-4.6M786.40 374.50h-4.6M786.40 367.95h-4.6M786.40 362.17h-4.6M786.40 357.00h-8.9M786.40 322.98h-4.6M786.40 303.09h-4.6M786.40 288.97h-4.6M786.40 278.02h-4.6M786.40 269.07h-4.6M786.40 261.50h-4.6M786.40 254.95h-4.6M786.40 249.17h-4.6M786.40 244.00h-8.9M786.40 209.98h-4.6M786.40 190.09h-4.6M786.40 175.97h-4.6M786.40 165.02h-4.6M786.40 156.07h-4.6M786.40 148.50h-4.6M786.40 141.95h-4.6M786.40 136.17h-4.6M786.40 131.00h-8.9M786.40 96.98h-4.6M786.40 77.09h-4.6M786.40 62.97h-4.6M786.40 52.02h-4.6M786.40 43.07h-4.6M786.40 35.50h-4.6M786.40 28.95h-4.6M786.40 23.17h-4.6M786.40 18.00h-8.9" stroke="#000" stroke-width="3.1" stroke-linecap="round"/>
<text x="786.40" y="506.40" font-size="28" text-anchor="middle">0</text>
<text x="861.22" y="506.40" font-size="28" text-anchor="middle">2</text>
<text x="936.04" y="506.40" font-size="28" text-anchor="middle">4</text>
<text x="1010.86" y="506.40" font-size="28" text-anchor="middle">6</text>
<text x="1085.68" y="506.40" font-size="28" text-anchor="middle">8</text>
<text x="1160.50" y="506.40" font-size="28" text-anchor="middle">10</text>
<text x="1235.32" y="506.40" font-size="28" text-anchor="middle">12</text>
<text x="1310.14" y="506.40" font-size="28" text-anchor="middle">14</text>
<text x="770.50" y="479.60" font-size="28" text-anchor="end">10<tspan font-size="17" dy="-13.3">-3</tspan></text>
<text x="770.50" y="366.60" font-size="28" text-anchor="end">10<tspan font-size="17" dy="-13.3">-2</tspan></text>
<text x="770.50" y="253.60" font-size="28" text-anchor="end">10<tspan font-size="17" dy="-13.3">-1</tspan></text>
<text x="770.50" y="140.60" font-size="28" text-anchor="end">10<tspan font-size="17" dy="-13.3">0</tspan></text>
<text x="770.50" y="27.60" font-size="28" text-anchor="end">10<tspan font-size="17" dy="-13.3">1</tspan></text>
<path d="M100.50 572.20H661.65V1024.00H100.50Z" fill="none" stroke="#000" stroke-width="3.3" stroke-linejoin="round"/>
<path d="M100.50 1024.00v8.5M137.91 1024.00v4.0M175.32 1024.00v8.5M212.73 1024.00v4.0M250.14 1024.00v8.5M287.55 1024.00v4.0M324.96 1024.00v8.5M362.37 1024.00v4.0M399.78 1024.00v8.5M437.19 1024.00v4.0M474.60 1024.00v8.5M512.01 1024.00v4.0M549.42 1024.00v8.5M586.83 1024.00v4.0M624.24 1024.00v8.5M661.65 1024.00v4.0M100.50 1024.00h-8.9M100.50 978.82h-4.6M100.50 933.64h-8.9M100.50 888.46h-4.6M100.50 843.28h-8.9M100.50 798.10h-4.6M100.50 752.92h-8.9M100.50 707.74h-4.6M100.50 662.56h-8.9M100.50 617.38h-4.6M100.50 572.20h-8.9" stroke="#000" stroke-width="3.1" stroke-linecap="round"/>
<text x="100.50" y="1062.00" font-size="30" text-anchor="middle">0</text>
<text x="175.32" y="1062.00" font-size="30" text-anchor="middle">2</text>
<text x="250.14" y="1062.00" font-size="30" text-anchor="middle">4</text>
<text x="324.96" y="1062.00" font-size="30" text-anchor="middle">6</text>
<text x="399.78" y="1062.00" font-size="30" text-anchor="middle">8</text>
<text x="474.60" y="1062.00" font-size="30" text-anchor="middle">10</text>
<text x="549.42" y="1062.00" font-size="30" text-anchor="middle">12</text>
<text x="624.24" y="1062.00" font-size="30" text-anchor="middle">14</text>
<text x="84.70" y="582.50" font-size="30" text-anchor="end">10<tspan font-size="18" dy="-14.4">5</tspan></text>
<text x="84.70" y="672.86" font-size="30" text-anchor="end">10<tspan font-size="18" dy="-14.4">3</tspan></text>
<text x="84.70" y="763.22" font-size="30" text-anchor="end">10<tspan font-size="18" dy="-14.4">1</tspan></text>
<text x="84.70" y="853.58" font-size="30" text-anchor="end">10<tspan font-size="18" dy="-14.4">-1</tspan></text>
<text x="84.70" y="943.94" font-size="30" text-anchor="end">10<tspan font-size="18" dy="-14.4">-3</tspan></text>
<text x="84.70" y="1034.30" font-size="30" text-anchor="end">10<tspan font-size="18" dy="-14.4">-5</tspan></text>
<path d="M786.30 571.80H1347.45V1024.00H786.30Z" fill="none" stroke="#000" stroke-width="3.3" stroke-linejoin="round"/>
<path d="M786.30 1024.00v8.5M823.71 1024.00v4.0M861.12 1024.00v8.5M898.53 1024.00v4.0M935.94 1024.00v8.5M973.35 1024.00v4.0M1010.76 1024.00v8.5M1048.17 1024.00v4.0M1085.58 1024.00v8.5M1122.99 1024.00v4.0M1160.40 1024.00v8.5M1197.81 1024.00v4.0M1235.22 1024.00v8.5M1272.63 1024.00v4.0M1310.04 1024.00v8.5M1347.45 1024.00v4.0M786.30 1024.00h-8.9M786.30 978.78h-4.6M786.30 933.56h-8.9M786.30 888.34h-4.6M786.30 843.12h-8.9M786.30 797.90h-4.6M786.30 752.68h-8.9M786.30 707.46h-4.6M786.30 662.24h-8.9M786.30 617.02h-4.6M786.30 571.80h-8.9" stroke="#000" stroke-width="3.1" stroke-linecap="round"/>
<text x="786.30" y="1062.00" font-size="30" text-anchor="middle">0</text>
<text x="861.12" y="1062.00" font-size="30" text-anchor="middle">2</text>
<text x="935.94" y="1062.00" font-size="30" text-anchor="middle">4</text>
<text x="1010.76" y="1062.00" font-size="30" text-anchor="middle">6</text>
<text x="1085.58" y="1062.00" font-size="30" text-anchor="middle">8</text>
<text x="1160.40" y="1062.00" font-size="30" text-anchor="middle">10</text>
<text x="1235.22" y="1062.00" font-size="30" text-anchor="middle">12</text>
<text x="1310.04" y="1062.00" font-size="30" text-anchor="middle">14</text>
<text x="770.50" y="582.10" font-size="30" text-anchor="end">10<tspan font-size="18" dy="-14.4">5</tspan></text>
<text x="770.50" y="672.54" font-size="30" text-anchor="end">10<tspan font-size="18" dy="-14.4">3</tspan></text>
<text x="770.50" y="762.98" font-size="30" text-anchor="end">10<tspan font-size="18" dy="-14.4">1</tspan></text>
<text x="770.50" y="853.42" font-size="30" text-anchor="end">10<tspan font-size="18" dy="-14.4">-1</tspan></text>
<text x="770.50" y="943.86" font-size="30" text-anchor="end">10<tspan font-size="18" dy="-14.4">-3</tspan></text>
<text x="770.50" y="1034.30" font-size="30" text-anchor="end">10<tspan font-size="18" dy="-14.4">-5</tspan></text>
<text x="116.0" y="62.5" font-size="51" letter-spacing="2.2">(a)</text>
<text x="798.4" y="62.4" font-size="51" letter-spacing="2.1">(b)</text>
<text x="116.5" y="621.6" font-size="51" letter-spacing="1.6">(c)</text>
<text x="796.6" y="618.9" font-size="51" letter-spacing="2.0">(d)</text>
<text x="257.2" y="535.3" font-size="38" letter-spacing="0.2">Frequency (THz)</text>
<text x="940.6" y="537.1" font-size="38" letter-spacing="0.2">Frequency (THz)</text>
<text x="254.8" y="1096.1" font-size="38" letter-spacing="0.2">Frequency (THz)</text>
<text x="940.6" y="1096.1" font-size="38" letter-spacing="0.2">Frequency (THz)</text>
<text transform="translate(37.6 415) rotate(-90)" font-size="38">Scattering Rate (ps<tspan font-size="23" dx="1.5" dy="-18.5">-1</tspan><tspan dx="2" dy="18.5">)</tspan></text>
<text transform="translate(721.4 417.1) rotate(-90)" font-size="38">Scattering Rate (ps<tspan font-size="23" dx="1.5" dy="-18.5">-1</tspan><tspan dx="2" dy="18.5">)</tspan></text>
<text transform="translate(27.4 975.9) rotate(-90)" font-size="38" letter-spacing="0.2">Grüneisen Parameter</text>
<text transform="translate(712.9 974.3) rotate(-90)" font-size="38" letter-spacing="0.2">Grüneisen parameter</text>
<text x="441.90" y="296.50" font-size="26" fill="#ff6600">E<tspan font-size="15" font-style="italic" font-weight="normal" dy="9.5">z</tspan><tspan dy="-9.5"> = 0.000 VÅ</tspan><tspan font-size="14" dy="-13.2">-1</tspan></text>
<text x="441.90" y="339.00" font-size="26" fill="#006633">E<tspan font-size="15" font-style="italic" font-weight="normal" dy="9.5">z</tspan><tspan dy="-9.5"> = 0.010 VÅ</tspan><tspan font-size="14" dy="-13.2">-1</tspan></text>
<text x="441.90" y="381.50" font-size="26" fill="#662200">E<tspan font-size="15" font-style="italic" font-weight="normal" dy="9.5">z</tspan><tspan dy="-9.5"> = 0.040 VÅ</tspan><tspan font-size="14" dy="-13.2">-1</tspan></text>
<text x="441.90" y="424.00" font-size="26" fill="#8080ff">E<tspan font-size="15" font-style="italic" font-weight="normal" dy="9.5">z</tspan><tspan dy="-9.5"> = 0.200 VÅ</tspan><tspan font-size="14" dy="-13.2">-1</tspan></text>
<text x="1122.70" y="299.20" font-size="26" fill="#ff6600">E<tspan font-size="15" font-style="italic" font-weight="normal" dy="9.5">z</tspan><tspan dy="-9.5"> = -0.000 VÅ</tspan><tspan font-size="14" dy="-13.2">-1</tspan></text>
<text x="1122.70" y="342.00" font-size="26" fill="#009944">E<tspan font-size="15" font-style="italic" font-weight="normal" dy="9.5">z</tspan><tspan dy="-9.5"> = -0.004 VÅ</tspan><tspan font-size="14" dy="-13.2">-1</tspan></text>
<text x="1122.70" y="384.80" font-size="26" fill="#662200">E<tspan font-size="15" font-style="italic" font-weight="normal" dy="9.5">z</tspan><tspan dy="-9.5"> = -0.008 VÅ</tspan><tspan font-size="14" dy="-13.2">-1</tspan></text>
<text x="1122.70" y="427.60" font-size="26" fill="#8080ff">E<tspan font-size="15" font-style="italic" font-weight="normal" dy="9.5">z</tspan><tspan dy="-9.5"> = -0.200 VÅ</tspan><tspan font-size="14" dy="-13.2">-1</tspan></text>
<text x="459.60" y="630.70" font-size="26" fill="#ff6600">E<tspan font-size="15" font-style="italic" font-weight="normal" dy="9.5">z</tspan><tspan dy="-9.5"> = 0.000 VÅ</tspan><tspan font-size="14" dy="-13.2">-1</tspan></text>
<text x="459.60" y="673.20" font-size="26" fill="#009944">E<tspan font-size="15" font-style="italic" font-weight="normal" dy="9.5">z</tspan><tspan dy="-9.5"> = 0.010 VÅ</tspan><tspan font-size="14" dy="-13.2">-1</tspan></text>
<text x="459.60" y="715.70" font-size="26" fill="#662200">E<tspan font-size="15" font-style="italic" font-weight="normal" dy="9.5">z</tspan><tspan dy="-9.5"> = 0.040 VÅ</tspan><tspan font-size="14" dy="-13.2">-1</tspan></text>
<text x="459.60" y="758.20" font-size="26" fill="#8080ff">E<tspan font-size="15" font-style="italic" font-weight="normal" dy="9.5">z</tspan><tspan dy="-9.5"> = 0.200 VÅ</tspan><tspan font-size="14" dy="-13.2">-1</tspan></text>
<text x="1152.40" y="621.60" font-size="26" fill="#ff6600">E<tspan font-size="15" font-style="italic" font-weight="normal" dy="9.5">z</tspan><tspan dy="-9.5"> = 0.000 VÅ</tspan><tspan font-size="14" dy="-13.2">-1</tspan></text>
<text x="1152.40" y="664.20" font-size="26" fill="#009944">E<tspan font-size="15" font-style="italic" font-weight="normal" dy="9.5">z</tspan><tspan dy="-9.5"> = -0.004 VÅ</tspan><tspan font-size="14" dy="-13.2">-1</tspan></text>
<text x="1152.40" y="706.80" font-size="26" fill="#662200">E<tspan font-size="15" font-style="italic" font-weight="normal" dy="9.5">z</tspan><tspan dy="-9.5"> = -0.008 VÅ</tspan><tspan font-size="14" dy="-13.2">-1</tspan></text>
<text x="1152.40" y="749.40" font-size="26" fill="#8080ff">E<tspan font-size="15" font-style="italic" font-weight="normal" dy="9.5">z</tspan><tspan dy="-9.5"> = -0.200 VÅ</tspan><tspan font-size="14" dy="-13.2">-1</tspan></text>
</svg>
</body></html>
